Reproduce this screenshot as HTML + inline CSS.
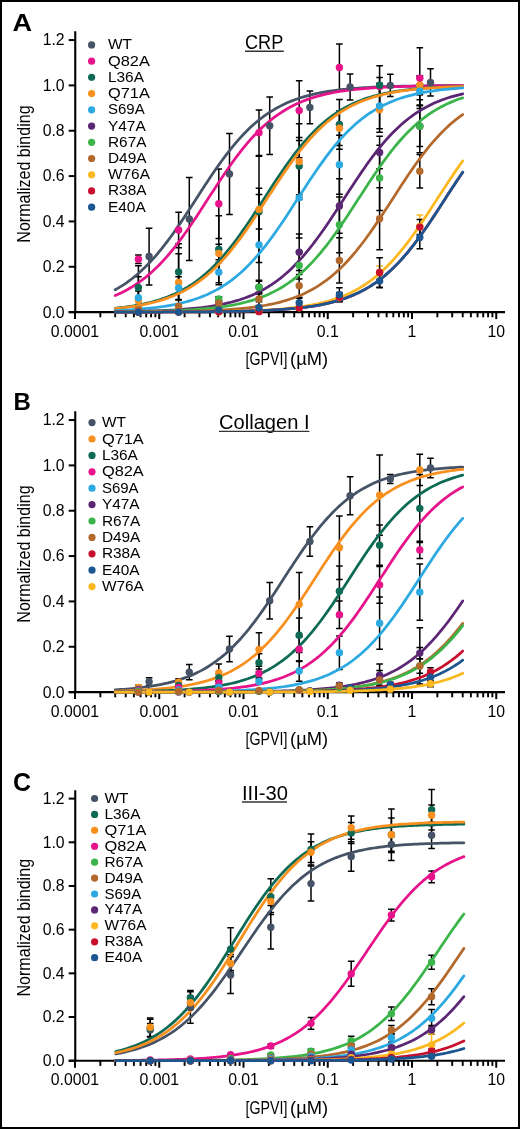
<!DOCTYPE html>
<html><head><meta charset="utf-8"><style>
html,body{margin:0;padding:0;background:#fff;}
body{width:520px;height:1129px;overflow:hidden;}
svg{display:block;will-change:transform;}
</style></head><body>
<svg width="520" height="1129" viewBox="0 0 520 1129">
<rect x="0" y="0" width="520" height="1129" fill="#fff"/>
<rect x="1" y="1" width="518" height="1127" fill="none" stroke="#000" stroke-width="2"/>
<text transform="translate(12.6,31.2) scale(1.13,1)" x="0" y="0" font-family="Liberation Sans, sans-serif" font-weight="bold" font-size="24" fill="#000">A</text>
<text transform="translate(30.3,242.7) rotate(-90)" x="0" y="0" font-family="Liberation Sans, sans-serif" font-size="19" textLength="137.3" lengthAdjust="spacingAndGlyphs" fill="#000">Normalized binding</text>
<line x1="75.25" y1="31.25" x2="75.25" y2="313.1" stroke="#000" stroke-width="2.1"/>
<line x1="68.7" y1="312.1" x2="505" y2="312.1" stroke="#000" stroke-width="2.1"/>
<line x1="68.7" y1="312.10" x2="75" y2="312.10" stroke="#000" stroke-width="2"/>
<text x="64.6" y="317.50" font-family="Liberation Sans, sans-serif" font-size="15.8" text-anchor="end" fill="#000">0.0</text>
<line x1="68.7" y1="266.76" x2="75" y2="266.76" stroke="#000" stroke-width="2"/>
<text x="64.6" y="272.16" font-family="Liberation Sans, sans-serif" font-size="15.8" text-anchor="end" fill="#000">0.2</text>
<line x1="68.7" y1="221.42" x2="75" y2="221.42" stroke="#000" stroke-width="2"/>
<text x="64.6" y="226.82" font-family="Liberation Sans, sans-serif" font-size="15.8" text-anchor="end" fill="#000">0.4</text>
<line x1="68.7" y1="176.08" x2="75" y2="176.08" stroke="#000" stroke-width="2"/>
<text x="64.6" y="181.48" font-family="Liberation Sans, sans-serif" font-size="15.8" text-anchor="end" fill="#000">0.6</text>
<line x1="68.7" y1="130.74" x2="75" y2="130.74" stroke="#000" stroke-width="2"/>
<text x="64.6" y="136.14" font-family="Liberation Sans, sans-serif" font-size="15.8" text-anchor="end" fill="#000">0.8</text>
<line x1="68.7" y1="85.40" x2="75" y2="85.40" stroke="#000" stroke-width="2"/>
<text x="64.6" y="90.80" font-family="Liberation Sans, sans-serif" font-size="15.8" text-anchor="end" fill="#000">1.0</text>
<line x1="68.7" y1="40.06" x2="75" y2="40.06" stroke="#000" stroke-width="2"/>
<text x="64.6" y="45.46" font-family="Liberation Sans, sans-serif" font-size="15.8" text-anchor="end" fill="#000">1.2</text>
<line x1="75.00" y1="312.1" x2="75.00" y2="319.10" stroke="#000" stroke-width="2"/>
<text x="75.00" y="336.50" font-family="Liberation Sans, sans-serif" font-size="15.8" text-anchor="middle" fill="#000">0.0001</text>
<line x1="100.36" y1="312.1" x2="100.36" y2="317.30" stroke="#000" stroke-width="1.9"/>
<line x1="115.20" y1="312.1" x2="115.20" y2="317.30" stroke="#000" stroke-width="1.9"/>
<line x1="125.72" y1="312.1" x2="125.72" y2="317.30" stroke="#000" stroke-width="1.9"/>
<line x1="133.89" y1="312.1" x2="133.89" y2="317.30" stroke="#000" stroke-width="1.9"/>
<line x1="140.56" y1="312.1" x2="140.56" y2="317.30" stroke="#000" stroke-width="1.9"/>
<line x1="146.20" y1="312.1" x2="146.20" y2="317.30" stroke="#000" stroke-width="1.9"/>
<line x1="151.09" y1="312.1" x2="151.09" y2="317.30" stroke="#000" stroke-width="1.9"/>
<line x1="155.39" y1="312.1" x2="155.39" y2="317.30" stroke="#000" stroke-width="1.9"/>
<line x1="159.25" y1="312.1" x2="159.25" y2="319.10" stroke="#000" stroke-width="2"/>
<text x="159.25" y="336.50" font-family="Liberation Sans, sans-serif" font-size="15.8" text-anchor="middle" fill="#000">0.001</text>
<line x1="184.61" y1="312.1" x2="184.61" y2="317.30" stroke="#000" stroke-width="1.9"/>
<line x1="199.45" y1="312.1" x2="199.45" y2="317.30" stroke="#000" stroke-width="1.9"/>
<line x1="209.97" y1="312.1" x2="209.97" y2="317.30" stroke="#000" stroke-width="1.9"/>
<line x1="218.14" y1="312.1" x2="218.14" y2="317.30" stroke="#000" stroke-width="1.9"/>
<line x1="224.81" y1="312.1" x2="224.81" y2="317.30" stroke="#000" stroke-width="1.9"/>
<line x1="230.45" y1="312.1" x2="230.45" y2="317.30" stroke="#000" stroke-width="1.9"/>
<line x1="235.34" y1="312.1" x2="235.34" y2="317.30" stroke="#000" stroke-width="1.9"/>
<line x1="239.64" y1="312.1" x2="239.64" y2="317.30" stroke="#000" stroke-width="1.9"/>
<line x1="243.50" y1="312.1" x2="243.50" y2="319.10" stroke="#000" stroke-width="2"/>
<text x="243.50" y="336.50" font-family="Liberation Sans, sans-serif" font-size="15.8" text-anchor="middle" fill="#000">0.01</text>
<line x1="268.86" y1="312.1" x2="268.86" y2="317.30" stroke="#000" stroke-width="1.9"/>
<line x1="283.70" y1="312.1" x2="283.70" y2="317.30" stroke="#000" stroke-width="1.9"/>
<line x1="294.22" y1="312.1" x2="294.22" y2="317.30" stroke="#000" stroke-width="1.9"/>
<line x1="302.39" y1="312.1" x2="302.39" y2="317.30" stroke="#000" stroke-width="1.9"/>
<line x1="309.06" y1="312.1" x2="309.06" y2="317.30" stroke="#000" stroke-width="1.9"/>
<line x1="314.70" y1="312.1" x2="314.70" y2="317.30" stroke="#000" stroke-width="1.9"/>
<line x1="319.59" y1="312.1" x2="319.59" y2="317.30" stroke="#000" stroke-width="1.9"/>
<line x1="323.89" y1="312.1" x2="323.89" y2="317.30" stroke="#000" stroke-width="1.9"/>
<line x1="327.75" y1="312.1" x2="327.75" y2="319.10" stroke="#000" stroke-width="2"/>
<text x="327.75" y="336.50" font-family="Liberation Sans, sans-serif" font-size="15.8" text-anchor="middle" fill="#000">0.1</text>
<line x1="353.11" y1="312.1" x2="353.11" y2="317.30" stroke="#000" stroke-width="1.9"/>
<line x1="367.95" y1="312.1" x2="367.95" y2="317.30" stroke="#000" stroke-width="1.9"/>
<line x1="378.47" y1="312.1" x2="378.47" y2="317.30" stroke="#000" stroke-width="1.9"/>
<line x1="386.64" y1="312.1" x2="386.64" y2="317.30" stroke="#000" stroke-width="1.9"/>
<line x1="393.31" y1="312.1" x2="393.31" y2="317.30" stroke="#000" stroke-width="1.9"/>
<line x1="398.95" y1="312.1" x2="398.95" y2="317.30" stroke="#000" stroke-width="1.9"/>
<line x1="403.84" y1="312.1" x2="403.84" y2="317.30" stroke="#000" stroke-width="1.9"/>
<line x1="408.14" y1="312.1" x2="408.14" y2="317.30" stroke="#000" stroke-width="1.9"/>
<line x1="412.00" y1="312.1" x2="412.00" y2="319.10" stroke="#000" stroke-width="2"/>
<text x="412.00" y="336.50" font-family="Liberation Sans, sans-serif" font-size="15.8" text-anchor="middle" fill="#000">1</text>
<line x1="437.36" y1="312.1" x2="437.36" y2="317.30" stroke="#000" stroke-width="1.9"/>
<line x1="452.20" y1="312.1" x2="452.20" y2="317.30" stroke="#000" stroke-width="1.9"/>
<line x1="462.72" y1="312.1" x2="462.72" y2="317.30" stroke="#000" stroke-width="1.9"/>
<line x1="470.89" y1="312.1" x2="470.89" y2="317.30" stroke="#000" stroke-width="1.9"/>
<line x1="477.56" y1="312.1" x2="477.56" y2="317.30" stroke="#000" stroke-width="1.9"/>
<line x1="483.20" y1="312.1" x2="483.20" y2="317.30" stroke="#000" stroke-width="1.9"/>
<line x1="488.09" y1="312.1" x2="488.09" y2="317.30" stroke="#000" stroke-width="1.9"/>
<line x1="492.39" y1="312.1" x2="492.39" y2="317.30" stroke="#000" stroke-width="1.9"/>
<line x1="496.25" y1="312.1" x2="496.25" y2="319.10" stroke="#000" stroke-width="2"/>
<text x="496.25" y="336.50" font-family="Liberation Sans, sans-serif" font-size="15.8" text-anchor="middle" fill="#000">10</text>
<text x="245.6" y="365.40" font-family="Liberation Sans, sans-serif" font-size="18.8" textLength="41.8" lengthAdjust="spacingAndGlyphs" fill="#000">[GPVI]</text>
<text x="290.1" y="365.40" font-family="Liberation Sans, sans-serif" font-size="18.8" textLength="38.0" lengthAdjust="spacingAndGlyphs" fill="#000">(µM)</text>
<text x="245.0" y="49.1" font-family="Liberation Sans, sans-serif" font-size="19.6" textLength="38.2" lengthAdjust="spacingAndGlyphs" fill="#000">CRP</text>
<line x1="245" y1="51.2" x2="283.8" y2="51.2" stroke="#333" stroke-width="1.4"/>
<circle cx="91.6" cy="44.90" r="3.6" fill="#465265"/>
<text x="108.0" y="49.40" font-family="Liberation Sans, sans-serif" font-size="15.4" fill="#000">WT</text>
<circle cx="91.6" cy="61.13" r="3.6" fill="#e6138b"/>
<text x="108.0" y="65.63" font-family="Liberation Sans, sans-serif" font-size="15.4" fill="#000" textLength="41.9" lengthAdjust="spacingAndGlyphs">Q82A</text>
<circle cx="91.6" cy="77.36" r="3.6" fill="#0c6a55"/>
<text x="108.0" y="81.86" font-family="Liberation Sans, sans-serif" font-size="15.4" fill="#000">L36A</text>
<circle cx="91.6" cy="93.59" r="3.6" fill="#f7901e"/>
<text x="108.0" y="98.09" font-family="Liberation Sans, sans-serif" font-size="15.4" fill="#000" textLength="41.9" lengthAdjust="spacingAndGlyphs">Q71A</text>
<circle cx="91.6" cy="109.82" r="3.6" fill="#2ca9e1"/>
<text x="108.0" y="114.32" font-family="Liberation Sans, sans-serif" font-size="15.4" fill="#000" textLength="36.7" lengthAdjust="spacingAndGlyphs">S69A</text>
<circle cx="91.6" cy="126.05" r="3.6" fill="#5b2673"/>
<text x="108.0" y="130.55" font-family="Liberation Sans, sans-serif" font-size="15.4" fill="#000">Y47A</text>
<circle cx="91.6" cy="142.28" r="3.6" fill="#3bb44a"/>
<text x="108.0" y="146.78" font-family="Liberation Sans, sans-serif" font-size="15.4" fill="#000">R67A</text>
<circle cx="91.6" cy="158.51" r="3.6" fill="#b4692c"/>
<text x="108.0" y="163.01" font-family="Liberation Sans, sans-serif" font-size="15.4" fill="#000">D49A</text>
<circle cx="91.6" cy="174.74" r="3.6" fill="#fbb81f"/>
<text x="108.0" y="179.24" font-family="Liberation Sans, sans-serif" font-size="15.4" fill="#000">W76A</text>
<circle cx="91.6" cy="190.97" r="3.6" fill="#c8102e"/>
<text x="108.0" y="195.47" font-family="Liberation Sans, sans-serif" font-size="15.4" fill="#000">R38A</text>
<circle cx="91.6" cy="207.20" r="3.6" fill="#1b5691"/>
<text x="108.0" y="211.70" font-family="Liberation Sans, sans-serif" font-size="15.4" fill="#000">E40A</text>
<path d="M145.80,228.22H152.40M149.10,228.22V284.90M145.80,284.90H152.40" stroke="#000" stroke-width="1.5" fill="none"/>
<path d="M186.00,177.44H192.60M189.30,177.44V260.41M186.00,260.41H192.60" stroke="#000" stroke-width="1.5" fill="none"/>
<path d="M226.20,133.46H232.80M229.50,133.46V214.62M226.20,214.62H232.80" stroke="#000" stroke-width="1.5" fill="none"/>
<path d="M266.40,96.96H273.00M269.70,96.96V154.54M266.40,154.54H273.00" stroke="#000" stroke-width="1.5" fill="none"/>
<path d="M306.60,91.07H313.20M309.90,91.07V123.71M306.60,123.71H313.20" stroke="#000" stroke-width="1.5" fill="none"/>
<path d="M346.80,74.07H353.40M350.10,74.07V99.91M346.80,99.91H353.40" stroke="#000" stroke-width="1.5" fill="none"/>
<path d="M387.00,74.29H393.60M390.30,74.29V96.51M387.00,96.51H393.60" stroke="#000" stroke-width="1.5" fill="none"/>
<path d="M427.20,68.85H433.80M430.50,68.85V96.05M427.20,96.05H433.80" stroke="#000" stroke-width="1.5" fill="none"/>
<path d="M135.10,254.97H141.70M138.40,254.97V263.59M135.10,263.59H141.70" stroke="#000" stroke-width="1.5" fill="none"/>
<path d="M175.30,212.35H181.90M178.60,212.35V247.72M175.30,247.72H181.90" stroke="#000" stroke-width="1.5" fill="none"/>
<path d="M215.50,169.05H222.10M218.80,169.05V238.42M215.50,238.42H222.10" stroke="#000" stroke-width="1.5" fill="none"/>
<path d="M255.70,110.11H262.30M259.00,110.11V155.45M255.70,155.45H262.30" stroke="#000" stroke-width="1.5" fill="none"/>
<path d="M295.90,80.64H302.50M299.20,80.64V140.49M295.90,140.49H302.50" stroke="#000" stroke-width="1.5" fill="none"/>
<path d="M336.10,43.91H342.70M339.40,43.91V91.07M336.10,91.07H342.70" stroke="#000" stroke-width="1.5" fill="none"/>
<path d="M376.30,77.47H382.90M379.60,77.47V95.60M376.30,95.60H382.90" stroke="#000" stroke-width="1.5" fill="none"/>
<path d="M416.50,47.77H423.10M419.80,47.77V108.52M416.50,108.52H423.10" stroke="#000" stroke-width="1.5" fill="none"/>
<path d="M135.10,265.85H141.70M138.40,265.85V308.93M135.10,308.93H141.70" stroke="#000" stroke-width="1.5" fill="none"/>
<path d="M175.30,243.86H181.90M178.60,243.86V300.08M175.30,300.08H181.90" stroke="#000" stroke-width="1.5" fill="none"/>
<path d="M215.50,215.75H222.10M218.80,215.75V282.86M215.50,282.86H222.10" stroke="#000" stroke-width="1.5" fill="none"/>
<path d="M255.70,194.44H262.30M259.00,194.44V228.90M255.70,228.90H262.30" stroke="#000" stroke-width="1.5" fill="none"/>
<path d="M295.90,137.54H302.50M299.20,137.54V194.67M295.90,194.67H302.50" stroke="#000" stroke-width="1.5" fill="none"/>
<path d="M336.10,99.46H342.70M339.40,99.46V149.33M336.10,149.33H342.70" stroke="#000" stroke-width="1.5" fill="none"/>
<path d="M376.30,65.68H382.90M379.60,65.68V104.67M376.30,104.67H382.90" stroke="#000" stroke-width="1.5" fill="none"/>
<path d="M416.50,76.33H423.10M419.80,76.33V94.47M416.50,94.47H423.10" stroke="#000" stroke-width="1.5" fill="none"/>
<path d="M135.10,276.73H141.70M138.40,276.73V313.23M135.10,313.23H141.70" stroke="#000" stroke-width="1.5" fill="none"/>
<path d="M175.30,253.84H181.90M178.60,253.84V310.97M175.30,310.97H181.90" stroke="#000" stroke-width="1.5" fill="none"/>
<path d="M215.50,244.32H222.10M218.80,244.32V262.45M215.50,262.45H222.10" stroke="#000" stroke-width="1.5" fill="none"/>
<path d="M255.70,156.36H262.30M259.00,156.36V262.45M255.70,262.45H262.30" stroke="#000" stroke-width="1.5" fill="none"/>
<path d="M295.90,123.71H302.50M299.20,123.71V199.43M295.90,199.43H302.50" stroke="#000" stroke-width="1.5" fill="none"/>
<path d="M336.10,111.02H342.70M339.40,111.02V145.48M336.10,145.48H342.70" stroke="#000" stroke-width="1.5" fill="none"/>
<path d="M376.30,86.99H382.90M379.60,86.99V132.33M376.30,132.33H382.90" stroke="#000" stroke-width="1.5" fill="none"/>
<path d="M416.50,75.65H423.10M419.80,75.65V94.69M416.50,94.69H423.10" stroke="#000" stroke-width="1.5" fill="none"/>
<path d="M135.10,291.02H141.70M138.40,291.02V304.62M135.10,304.62H141.70" stroke="#000" stroke-width="1.5" fill="none"/>
<path d="M175.30,276.73H181.90M178.60,276.73V299.40M175.30,299.40H181.90" stroke="#000" stroke-width="1.5" fill="none"/>
<path d="M215.50,259.73H222.10M218.80,259.73V284.67M215.50,284.67H222.10" stroke="#000" stroke-width="1.5" fill="none"/>
<path d="M255.70,188.32H262.30M259.00,188.32V301.67M255.70,301.67H262.30" stroke="#000" stroke-width="1.5" fill="none"/>
<path d="M295.90,157.72H302.50M299.20,157.72V237.97M295.90,237.97H302.50" stroke="#000" stroke-width="1.5" fill="none"/>
<path d="M336.10,135.27H342.70M339.40,135.27V194.22M336.10,194.22H342.70" stroke="#000" stroke-width="1.5" fill="none"/>
<path d="M376.30,83.36H382.90M379.60,83.36V128.70M376.30,128.70H382.90" stroke="#000" stroke-width="1.5" fill="none"/>
<path d="M416.50,77.69H423.10M419.80,77.69V104.90M416.50,104.90H423.10" stroke="#000" stroke-width="1.5" fill="none"/>
<path d="M135.10,310.97H141.70M138.40,310.97V313.23M135.10,313.23H141.70" stroke="#000" stroke-width="1.5" fill="none"/>
<path d="M175.30,309.83H181.90M178.60,309.83V312.10M175.30,312.10H181.90" stroke="#000" stroke-width="1.5" fill="none"/>
<path d="M215.50,297.36H222.10M218.80,297.36V306.43M215.50,306.43H222.10" stroke="#000" stroke-width="1.5" fill="none"/>
<path d="M255.70,280.36H262.30M259.00,280.36V293.96M255.70,293.96H262.30" stroke="#000" stroke-width="1.5" fill="none"/>
<path d="M295.90,234.12H302.50M299.20,234.12V270.39M295.90,270.39H302.50" stroke="#000" stroke-width="1.5" fill="none"/>
<path d="M336.10,178.80H342.70M339.40,178.80V233.21M336.10,233.21H342.70" stroke="#000" stroke-width="1.5" fill="none"/>
<path d="M376.30,136.18H382.90M379.60,136.18V168.83M376.30,168.83H382.90" stroke="#000" stroke-width="1.5" fill="none"/>
<path d="M416.50,105.80H423.10M419.80,105.80V146.61M416.50,146.61H423.10" stroke="#000" stroke-width="1.5" fill="none"/>
<path d="M135.10,310.97H141.70M138.40,310.97V313.23M135.10,313.23H141.70" stroke="#000" stroke-width="1.5" fill="none"/>
<path d="M175.30,308.70H181.90M178.60,308.70V310.97M175.30,310.97H181.90" stroke="#000" stroke-width="1.5" fill="none"/>
<path d="M215.50,296.68H222.10M218.80,296.68V301.22M215.50,301.22H222.10" stroke="#000" stroke-width="1.5" fill="none"/>
<path d="M255.70,281.27H262.30M259.00,281.27V293.06M255.70,293.06H262.30" stroke="#000" stroke-width="1.5" fill="none"/>
<path d="M295.90,251.80H302.50M299.20,251.80V279.00M295.90,279.00H302.50" stroke="#000" stroke-width="1.5" fill="none"/>
<path d="M336.10,196.94H342.70M339.40,196.94V252.70M336.10,252.70H342.70" stroke="#000" stroke-width="1.5" fill="none"/>
<path d="M376.30,145.25H382.90M379.60,145.25V210.54M376.30,210.54H382.90" stroke="#000" stroke-width="1.5" fill="none"/>
<path d="M416.50,99.68H423.10M419.80,99.68V152.73M416.50,152.73H423.10" stroke="#000" stroke-width="1.5" fill="none"/>
<path d="M135.10,307.34H141.70M138.40,307.34V311.87M135.10,311.87H141.70" stroke="#000" stroke-width="1.5" fill="none"/>
<path d="M175.30,303.94H181.90M178.60,303.94V308.47M175.30,308.47H181.90" stroke="#000" stroke-width="1.5" fill="none"/>
<path d="M215.50,298.72H222.10M218.80,298.72V307.79M215.50,307.79H222.10" stroke="#000" stroke-width="1.5" fill="none"/>
<path d="M255.70,292.15H262.30M259.00,292.15V305.75M255.70,305.75H262.30" stroke="#000" stroke-width="1.5" fill="none"/>
<path d="M295.90,274.47H302.50M299.20,274.47V297.14M295.90,297.14H302.50" stroke="#000" stroke-width="1.5" fill="none"/>
<path d="M336.10,237.74H342.70M339.40,237.74V283.08M336.10,283.08H342.70" stroke="#000" stroke-width="1.5" fill="none"/>
<path d="M376.30,187.64H382.90M379.60,187.64V249.76M376.30,249.76H382.90" stroke="#000" stroke-width="1.5" fill="none"/>
<path d="M416.50,154.54H423.10M419.80,154.54V188.10M416.50,188.10H423.10" stroke="#000" stroke-width="1.5" fill="none"/>
<path d="M295.90,305.53H302.50M299.20,305.53V310.06M295.90,310.06H302.50" stroke="#fbb81f" stroke-width="1.5" fill="none"/>
<path d="M336.10,294.42H342.70M339.40,294.42V299.86M336.10,299.86H342.70" stroke="#fbb81f" stroke-width="1.5" fill="none"/>
<path d="M376.30,266.08H382.90M379.60,266.08V278.78M376.30,278.78H382.90" stroke="#fbb81f" stroke-width="1.5" fill="none"/>
<path d="M416.50,215.07H423.10M419.80,215.07V237.74M416.50,237.74H423.10" stroke="#fbb81f" stroke-width="1.5" fill="none"/>
<path d="M295.90,305.53H302.50M299.20,305.53V310.06M295.90,310.06H302.50" stroke="#000" stroke-width="1.5" fill="none"/>
<path d="M336.10,292.60H342.70M339.40,292.60V301.67M336.10,301.67H342.70" stroke="#000" stroke-width="1.5" fill="none"/>
<path d="M376.30,257.69H382.90M379.60,257.69V287.16M376.30,287.16H382.90" stroke="#000" stroke-width="1.5" fill="none"/>
<path d="M416.50,219.61H423.10M419.80,219.61V234.57M416.50,234.57H423.10" stroke="#000" stroke-width="1.5" fill="none"/>
<path d="M215.50,308.70H222.10M218.80,308.70V310.97M215.50,310.97H222.10" stroke="#000" stroke-width="1.5" fill="none"/>
<path d="M255.70,305.53H262.30M259.00,305.53V310.06M255.70,310.06H262.30" stroke="#000" stroke-width="1.5" fill="none"/>
<path d="M295.90,298.27H302.50M299.20,298.27V307.34M295.90,307.34H302.50" stroke="#000" stroke-width="1.5" fill="none"/>
<path d="M336.10,287.84H342.70M339.40,287.84V301.45M336.10,301.45H342.70" stroke="#000" stroke-width="1.5" fill="none"/>
<path d="M376.30,274.24H382.90M379.60,274.24V287.84M376.30,287.84H382.90" stroke="#000" stroke-width="1.5" fill="none"/>
<path d="M416.50,226.18H423.10M419.80,226.18V248.85M416.50,248.85H423.10" stroke="#000" stroke-width="1.5" fill="none"/>
<path d="M115.20,289.80 L118.09,288.16 L120.99,286.41 L123.89,284.55 L126.78,282.58 L129.68,280.49 L132.57,278.27 L135.47,275.93 L138.37,273.46 L141.26,270.85 L144.16,268.11 L147.05,265.24 L149.95,262.23 L152.85,259.08 L155.74,255.80 L158.64,252.39 L161.53,248.84 L164.43,245.17 L167.33,241.37 L170.22,237.47 L173.12,233.45 L176.01,229.34 L178.91,225.14 L181.81,220.86 L184.70,216.51 L187.60,212.11 L190.49,207.67 L193.39,203.20 L196.29,198.71 L199.18,194.23 L202.08,189.76 L204.98,185.32 L207.87,180.92 L210.77,176.57 L213.66,172.30 L216.56,168.10 L219.46,163.98 L222.35,159.97 L225.25,156.06 L228.14,152.27 L231.04,148.60 L233.94,145.06 L236.83,141.65 L239.73,138.37 L242.62,135.22 L245.52,132.21 L248.42,129.34 L251.31,126.60 L254.21,124.00 L257.10,121.53 L260.00,119.19 L262.90,116.98 L265.79,114.89 L268.69,112.92 L271.58,111.06 L274.48,109.31 L277.38,107.67 L280.27,106.13 L283.17,104.69 L286.06,103.34 L288.96,102.07 L291.86,100.89 L294.75,99.79 L297.65,98.76 L300.54,97.80 L303.44,96.90 L306.34,96.07 L309.23,95.29 L312.13,94.57 L315.02,93.90 L317.92,93.27 L320.82,92.69 L323.71,92.15 L326.61,91.65 L329.51,91.19 L332.40,90.76 L335.30,90.36 L338.19,89.99 L341.09,89.65 L343.99,89.33 L346.88,89.04 L349.78,88.76 L352.67,88.51 L355.57,88.28 L358.47,88.06 L361.36,87.86 L364.26,87.68 L367.15,87.50 L370.05,87.35 L372.95,87.20 L375.84,87.06 L378.74,86.94 L381.63,86.82 L384.53,86.71 L387.43,86.61 L390.32,86.52 L393.22,86.44 L396.11,86.36 L399.01,86.29 L401.91,86.22 L404.80,86.16 L407.70,86.10 L410.59,86.05 L413.49,86.00 L416.39,85.95 L419.28,85.91 L422.18,85.87 L425.07,85.84 L427.97,85.80 L430.87,85.77 L433.76,85.74 L436.66,85.72 L439.56,85.69 L442.45,85.67 L445.35,85.65 L448.24,85.63 L451.14,85.61 L454.04,85.60 L456.93,85.58 L459.83,85.57 L462.72,85.56" stroke="#465265" stroke-width="2.75" fill="none" stroke-linejoin="round" stroke-linecap="round"/>
<path d="M115.20,295.51 L118.09,294.25 L120.99,292.91 L123.89,291.47 L126.78,289.94 L129.68,288.30 L132.57,286.56 L135.47,284.72 L138.37,282.75 L141.26,280.67 L144.16,278.47 L147.05,276.13 L149.95,273.67 L152.85,271.08 L155.74,268.36 L158.64,265.49 L161.53,262.49 L164.43,259.36 L167.33,256.09 L170.22,252.68 L173.12,249.15 L176.01,245.49 L178.91,241.70 L181.81,237.81 L184.70,233.80 L187.60,229.70 L190.49,225.50 L193.39,221.23 L196.29,216.89 L199.18,212.49 L202.08,208.05 L204.98,203.58 L207.87,199.10 L210.77,194.62 L213.66,190.14 L216.56,185.70 L219.46,181.30 L222.35,176.95 L225.25,172.66 L228.14,168.45 L231.04,164.33 L233.94,160.31 L236.83,156.40 L239.73,152.59 L242.62,148.91 L245.52,145.36 L248.42,141.93 L251.31,138.64 L254.21,135.49 L257.10,132.47 L260.00,129.58 L262.90,126.83 L265.79,124.22 L268.69,121.74 L271.58,119.39 L274.48,117.17 L277.38,115.06 L280.27,113.08 L283.17,111.22 L286.06,109.46 L288.96,107.81 L291.86,106.26 L294.75,104.81 L297.65,103.45 L300.54,102.18 L303.44,100.99 L306.34,99.88 L309.23,98.84 L312.13,97.88 L315.02,96.97 L317.92,96.14 L320.82,95.35 L323.71,94.63 L326.61,93.95 L329.51,93.32 L332.40,92.74 L335.30,92.20 L338.19,91.70 L341.09,91.23 L343.99,90.80 L346.88,90.39 L349.78,90.02 L352.67,89.68 L355.57,89.36 L358.47,89.06 L361.36,88.79 L364.26,88.53 L367.15,88.30 L370.05,88.08 L372.95,87.88 L375.84,87.69 L378.74,87.52 L381.63,87.36 L384.53,87.21 L387.43,87.07 L390.32,86.95 L393.22,86.83 L396.11,86.72 L399.01,86.62 L401.91,86.53 L404.80,86.44 L407.70,86.36 L410.59,86.29 L413.49,86.22 L416.39,86.16 L419.28,86.10 L422.18,86.05 L425.07,86.00 L427.97,85.96 L430.87,85.91 L433.76,85.87 L436.66,85.84 L439.56,85.80 L442.45,85.77 L445.35,85.75 L448.24,85.72 L451.14,85.70 L454.04,85.67 L456.93,85.65 L459.83,85.63 L462.72,85.62" stroke="#e6138b" stroke-width="2.75" fill="none" stroke-linejoin="round" stroke-linecap="round"/>
<path d="M115.20,308.28 L118.09,307.97 L120.99,307.64 L123.89,307.28 L126.78,306.89 L129.68,306.47 L132.57,306.02 L135.47,305.53 L138.37,305.01 L141.26,304.44 L144.16,303.84 L147.05,303.18 L149.95,302.48 L152.85,301.72 L155.74,300.91 L158.64,300.04 L161.53,299.10 L164.43,298.10 L167.33,297.02 L170.22,295.87 L173.12,294.63 L176.01,293.31 L178.91,291.90 L181.81,290.40 L184.70,288.80 L187.60,287.09 L190.49,285.27 L193.39,283.34 L196.29,281.30 L199.18,279.13 L202.08,276.84 L204.98,274.41 L207.87,271.86 L210.77,269.17 L213.66,266.35 L216.56,263.39 L219.46,260.30 L222.35,257.07 L225.25,253.70 L228.14,250.20 L231.04,246.58 L233.94,242.83 L236.83,238.97 L239.73,234.99 L242.62,230.92 L245.52,226.75 L248.42,222.50 L251.31,218.17 L254.21,213.79 L257.10,209.36 L260.00,204.90 L262.90,200.42 L265.79,195.94 L268.69,191.46 L271.58,187.01 L274.48,182.59 L277.38,178.22 L280.27,173.92 L283.17,169.69 L286.06,165.54 L288.96,161.49 L291.86,157.54 L294.75,153.70 L297.65,149.99 L300.54,146.39 L303.44,142.93 L306.34,139.60 L309.23,136.40 L312.13,133.34 L315.02,130.42 L317.92,127.63 L320.82,124.98 L323.71,122.46 L326.61,120.07 L329.51,117.81 L332.40,115.67 L335.30,113.66 L338.19,111.75 L341.09,109.97 L343.99,108.29 L346.88,106.71 L349.78,105.23 L352.67,103.84 L355.57,102.54 L358.47,101.33 L361.36,100.20 L364.26,99.14 L367.15,98.15 L370.05,97.23 L372.95,96.38 L375.84,95.58 L378.74,94.84 L381.63,94.15 L384.53,93.50 L387.43,92.91 L390.32,92.35 L393.22,91.84 L396.11,91.36 L399.01,90.92 L401.91,90.51 L404.80,90.13 L407.70,89.78 L410.59,89.45 L413.49,89.15 L416.39,88.87 L419.28,88.61 L422.18,88.36 L425.07,88.14 L427.97,87.94 L430.87,87.74 L433.76,87.57 L436.66,87.40 L439.56,87.25 L442.45,87.11 L445.35,86.98 L448.24,86.86 L451.14,86.75 L454.04,86.65 L456.93,86.56 L459.83,86.47 L462.72,86.39" stroke="#0c6a55" stroke-width="2.75" fill="none" stroke-linejoin="round" stroke-linecap="round"/>
<path d="M115.20,308.58 L118.09,308.29 L120.99,307.98 L123.89,307.65 L126.78,307.29 L129.68,306.90 L132.57,306.49 L135.47,306.04 L138.37,305.55 L141.26,305.03 L144.16,304.47 L147.05,303.86 L149.95,303.21 L152.85,302.51 L155.74,301.75 L158.64,300.94 L161.53,300.07 L164.43,299.14 L167.33,298.14 L170.22,297.06 L173.12,295.91 L176.01,294.68 L178.91,293.37 L181.81,291.96 L184.70,290.46 L187.60,288.86 L190.49,287.16 L193.39,285.35 L196.29,283.42 L199.18,281.38 L202.08,279.22 L204.98,276.93 L207.87,274.51 L210.77,271.96 L213.66,269.28 L216.56,266.46 L219.46,263.51 L222.35,260.42 L225.25,257.20 L228.14,253.84 L231.04,250.34 L233.94,246.72 L236.83,242.98 L239.73,239.12 L242.62,235.15 L245.52,231.08 L248.42,226.91 L251.31,222.66 L254.21,218.34 L257.10,213.96 L260.00,209.54 L262.90,205.08 L265.79,200.60 L268.69,196.11 L271.58,191.64 L274.48,187.18 L277.38,182.76 L280.27,178.39 L283.17,174.08 L286.06,169.85 L288.96,165.70 L291.86,161.64 L294.75,157.69 L297.65,153.85 L300.54,150.13 L303.44,146.53 L306.34,143.06 L309.23,139.73 L312.13,136.52 L315.02,133.46 L317.92,130.53 L320.82,127.74 L323.71,125.08 L326.61,122.55 L329.51,120.16 L332.40,117.89 L335.30,115.75 L338.19,113.73 L341.09,111.83 L343.99,110.03 L346.88,108.35 L349.78,106.77 L352.67,105.28 L355.57,103.89 L358.47,102.59 L361.36,101.38 L364.26,100.24 L367.15,99.18 L370.05,98.19 L372.95,97.27 L375.84,96.41 L378.74,95.61 L381.63,94.86 L384.53,94.17 L387.43,93.53 L390.32,92.93 L393.22,92.38 L396.11,91.86 L399.01,91.38 L401.91,90.94 L404.80,90.53 L407.70,90.14 L410.59,89.79 L413.49,89.46 L416.39,89.16 L419.28,88.88 L422.18,88.62 L425.07,88.37 L427.97,88.15 L430.87,87.94 L433.76,87.75 L436.66,87.57 L439.56,87.41 L442.45,87.26 L445.35,87.12 L448.24,86.99 L451.14,86.87 L454.04,86.76 L456.93,86.65 L459.83,86.56 L462.72,86.47" stroke="#f7901e" stroke-width="2.75" fill="none" stroke-linejoin="round" stroke-linecap="round"/>
<path d="M115.20,310.56 L118.09,310.44 L120.99,310.30 L123.89,310.16 L126.78,310.00 L129.68,309.83 L132.57,309.64 L135.47,309.44 L138.37,309.23 L141.26,308.99 L144.16,308.74 L147.05,308.47 L149.95,308.17 L152.85,307.86 L155.74,307.51 L158.64,307.14 L161.53,306.75 L164.43,306.32 L167.33,305.85 L170.22,305.35 L173.12,304.82 L176.01,304.24 L178.91,303.61 L181.81,302.94 L184.70,302.22 L187.60,301.44 L190.49,300.61 L193.39,299.72 L196.29,298.76 L199.18,297.73 L202.08,296.62 L204.98,295.44 L207.87,294.18 L210.77,292.83 L213.66,291.39 L216.56,289.85 L219.46,288.21 L222.35,286.46 L225.25,284.61 L228.14,282.64 L231.04,280.55 L233.94,278.34 L236.83,276.00 L239.73,273.53 L242.62,270.93 L245.52,268.20 L248.42,265.33 L251.31,262.32 L254.21,259.18 L257.10,255.90 L260.00,252.49 L262.90,248.95 L265.79,245.28 L268.69,241.49 L271.58,237.58 L274.48,233.57 L277.38,229.46 L280.27,225.26 L283.17,220.98 L286.06,216.64 L288.96,212.24 L291.86,207.80 L294.75,203.33 L297.65,198.85 L300.54,194.36 L303.44,189.89 L306.34,185.45 L309.23,181.05 L312.13,176.70 L315.02,172.42 L317.92,168.22 L320.82,164.10 L323.71,160.09 L326.61,156.18 L329.51,152.38 L332.40,148.71 L335.30,145.16 L338.19,141.74 L341.09,138.46 L343.99,135.31 L346.88,132.30 L349.78,129.42 L352.67,126.68 L355.57,124.08 L358.47,121.60 L361.36,119.26 L364.26,117.04 L367.15,114.95 L370.05,112.97 L372.95,111.11 L375.84,109.36 L378.74,107.72 L381.63,106.18 L384.53,104.73 L387.43,103.38 L390.32,102.11 L393.22,100.92 L396.11,99.82 L399.01,98.79 L401.91,97.82 L404.80,96.93 L407.70,96.09 L410.59,95.31 L413.49,94.59 L416.39,93.92 L419.28,93.29 L422.18,92.71 L425.07,92.17 L427.97,91.67 L430.87,91.20 L433.76,90.77 L436.66,90.37 L439.56,90.00 L442.45,89.66 L445.35,89.34 L448.24,89.04 L451.14,88.77 L454.04,88.52 L456.93,88.28 L459.83,88.07 L462.72,87.87" stroke="#2ca9e1" stroke-width="2.75" fill="none" stroke-linejoin="round" stroke-linecap="round"/>
<path d="M115.20,311.66 L118.09,311.63 L120.99,311.59 L123.89,311.55 L126.78,311.50 L129.68,311.45 L132.57,311.40 L135.47,311.34 L138.37,311.28 L141.26,311.21 L144.16,311.14 L147.05,311.06 L149.95,310.98 L152.85,310.89 L155.74,310.79 L158.64,310.68 L161.53,310.56 L164.43,310.44 L167.33,310.30 L170.22,310.16 L173.12,310.00 L176.01,309.83 L178.91,309.64 L181.81,309.44 L184.70,309.22 L187.60,308.99 L190.49,308.74 L193.39,308.46 L196.29,308.17 L199.18,307.85 L202.08,307.51 L204.98,307.14 L207.87,306.74 L210.77,306.31 L213.66,305.85 L216.56,305.35 L219.46,304.81 L222.35,304.23 L225.25,303.61 L228.14,302.94 L231.04,302.21 L233.94,301.44 L236.83,300.60 L239.73,299.71 L242.62,298.75 L245.52,297.72 L248.42,296.61 L251.31,295.43 L254.21,294.17 L257.10,292.82 L260.00,291.37 L262.90,289.83 L265.79,288.19 L268.69,286.45 L271.58,284.59 L274.48,282.62 L277.38,280.53 L280.27,278.32 L283.17,275.98 L286.06,273.51 L288.96,270.91 L291.86,268.17 L294.75,265.30 L297.65,262.29 L300.54,259.15 L303.44,255.87 L306.34,252.46 L309.23,248.91 L312.13,245.24 L315.02,241.45 L317.92,237.55 L320.82,233.53 L323.71,229.42 L326.61,225.22 L329.51,220.94 L332.40,216.60 L335.30,212.20 L338.19,207.76 L341.09,203.29 L343.99,198.80 L346.88,194.32 L349.78,189.85 L352.67,185.41 L355.57,181.01 L358.47,176.66 L361.36,172.38 L364.26,168.18 L367.15,164.07 L370.05,160.05 L372.95,156.14 L375.84,152.35 L378.74,148.68 L381.63,145.13 L384.53,141.71 L387.43,138.43 L390.32,135.28 L393.22,132.27 L396.11,129.40 L399.01,126.66 L401.91,124.05 L404.80,121.58 L407.70,119.24 L410.59,117.02 L413.49,114.93 L416.39,112.96 L419.28,111.10 L422.18,109.35 L425.07,107.71 L427.97,106.16 L430.87,104.72 L433.76,103.36 L436.66,102.10 L439.56,100.91 L442.45,99.81 L445.35,98.78 L448.24,97.81 L451.14,96.92 L454.04,96.08 L456.93,95.31 L459.83,94.58 L462.72,93.91" stroke="#5b2673" stroke-width="2.75" fill="none" stroke-linejoin="round" stroke-linecap="round"/>
<path d="M115.20,311.81 L118.09,311.78 L120.99,311.76 L123.89,311.73 L126.78,311.70 L129.68,311.67 L132.57,311.63 L135.47,311.59 L138.37,311.55 L141.26,311.50 L144.16,311.45 L147.05,311.40 L149.95,311.34 L152.85,311.28 L155.74,311.22 L158.64,311.14 L161.53,311.06 L164.43,310.98 L167.33,310.89 L170.22,310.79 L173.12,310.68 L176.01,310.57 L178.91,310.44 L181.81,310.30 L184.70,310.16 L187.60,310.00 L190.49,309.83 L193.39,309.64 L196.29,309.44 L199.18,309.23 L202.08,308.99 L204.98,308.74 L207.87,308.47 L210.77,308.17 L213.66,307.86 L216.56,307.52 L219.46,307.15 L222.35,306.75 L225.25,306.32 L228.14,305.85 L231.04,305.36 L233.94,304.82 L236.83,304.24 L239.73,303.62 L242.62,302.94 L245.52,302.22 L248.42,301.45 L251.31,300.62 L254.21,299.72 L257.10,298.76 L260.00,297.73 L262.90,296.63 L265.79,295.45 L268.69,294.19 L271.58,292.84 L274.48,291.39 L277.38,289.86 L280.27,288.22 L283.17,286.47 L286.06,284.62 L288.96,282.65 L291.86,280.56 L294.75,278.35 L297.65,276.01 L300.54,273.54 L303.44,270.94 L306.34,268.21 L309.23,265.34 L312.13,262.34 L315.02,259.19 L317.92,255.92 L320.82,252.50 L323.71,248.96 L326.61,245.30 L329.51,241.51 L332.40,237.60 L335.30,233.59 L338.19,229.48 L341.09,225.28 L343.99,221.01 L346.88,216.66 L349.78,212.26 L352.67,207.82 L355.57,203.35 L358.47,198.87 L361.36,194.39 L364.26,189.91 L367.15,185.47 L370.05,181.07 L372.95,176.72 L375.84,172.44 L378.74,168.24 L381.63,164.12 L384.53,160.11 L387.43,156.20 L390.32,152.40 L393.22,148.73 L396.11,145.18 L399.01,141.76 L401.91,138.48 L404.80,135.33 L407.70,132.31 L410.59,129.44 L413.49,126.70 L416.39,124.09 L419.28,121.62 L422.18,119.27 L425.07,117.05 L427.97,114.96 L430.87,112.98 L433.76,111.12 L436.66,109.37 L439.56,107.73 L442.45,106.18 L445.35,104.74 L448.24,103.38 L451.14,102.12 L454.04,100.93 L456.93,99.82 L459.83,98.79 L462.72,97.83" stroke="#3bb44a" stroke-width="2.75" fill="none" stroke-linejoin="round" stroke-linecap="round"/>
<path d="M115.20,311.98 L118.09,311.98 L120.99,311.97 L123.89,311.95 L126.78,311.94 L129.68,311.93 L132.57,311.91 L135.47,311.90 L138.37,311.88 L141.26,311.87 L144.16,311.85 L147.05,311.83 L149.95,311.80 L152.85,311.78 L155.74,311.75 L158.64,311.72 L161.53,311.69 L164.43,311.66 L167.33,311.62 L170.22,311.58 L173.12,311.54 L176.01,311.49 L178.91,311.44 L181.81,311.39 L184.70,311.33 L187.60,311.27 L190.49,311.20 L193.39,311.13 L196.29,311.05 L199.18,310.96 L202.08,310.87 L204.98,310.77 L207.87,310.66 L210.77,310.54 L213.66,310.41 L216.56,310.27 L219.46,310.13 L222.35,309.96 L225.25,309.79 L228.14,309.60 L231.04,309.40 L233.94,309.18 L236.83,308.94 L239.73,308.69 L242.62,308.41 L245.52,308.11 L248.42,307.79 L251.31,307.44 L254.21,307.07 L257.10,306.66 L260.00,306.22 L262.90,305.75 L265.79,305.25 L268.69,304.70 L271.58,304.11 L274.48,303.48 L277.38,302.80 L280.27,302.07 L283.17,301.28 L286.06,300.44 L288.96,299.53 L291.86,298.55 L294.75,297.51 L297.65,296.39 L300.54,295.19 L303.44,293.91 L306.34,292.54 L309.23,291.08 L312.13,289.52 L315.02,287.86 L317.92,286.10 L320.82,284.22 L323.71,282.22 L326.61,280.11 L329.51,277.87 L332.40,275.51 L335.30,273.02 L338.19,270.39 L341.09,267.63 L343.99,264.73 L346.88,261.70 L349.78,258.52 L352.67,255.22 L355.57,251.78 L358.47,248.21 L361.36,244.52 L364.26,240.71 L367.15,236.78 L370.05,232.75 L372.95,228.62 L375.84,224.40 L378.74,220.11 L381.63,215.75 L384.53,211.34 L387.43,206.90 L390.32,202.42 L393.22,197.94 L396.11,193.46 L399.01,188.99 L401.91,184.56 L404.80,180.16 L407.70,175.83 L410.59,171.56 L413.49,167.38 L416.39,163.28 L419.28,159.29 L422.18,155.40 L425.07,151.63 L427.97,147.98 L430.87,144.46 L433.76,141.07 L436.66,137.81 L439.56,134.69 L442.45,131.71 L445.35,128.86 L448.24,126.14 L451.14,123.57 L454.04,121.12 L456.93,118.80 L459.83,116.61 L462.72,114.54" stroke="#b4692c" stroke-width="2.75" fill="none" stroke-linejoin="round" stroke-linecap="round"/>
<path d="M115.20,312.07 L118.09,312.06 L120.99,312.06 L123.89,312.06 L126.78,312.05 L129.68,312.05 L132.57,312.05 L135.47,312.04 L138.37,312.04 L141.26,312.03 L144.16,312.02 L147.05,312.02 L149.95,312.01 L152.85,312.00 L155.74,312.00 L158.64,311.99 L161.53,311.98 L164.43,311.97 L167.33,311.96 L170.22,311.95 L173.12,311.93 L176.01,311.92 L178.91,311.91 L181.81,311.89 L184.70,311.87 L187.60,311.85 L190.49,311.83 L193.39,311.81 L196.29,311.79 L199.18,311.76 L202.08,311.74 L204.98,311.71 L207.87,311.67 L210.77,311.64 L213.66,311.60 L216.56,311.56 L219.46,311.51 L222.35,311.47 L225.25,311.41 L228.14,311.36 L231.04,311.30 L233.94,311.23 L236.83,311.16 L239.73,311.08 L242.62,311.00 L245.52,310.91 L248.42,310.81 L251.31,310.71 L254.21,310.59 L257.10,310.47 L260.00,310.33 L262.90,310.19 L265.79,310.03 L268.69,309.87 L271.58,309.68 L274.48,309.49 L277.38,309.27 L280.27,309.05 L283.17,308.80 L286.06,308.53 L288.96,308.24 L291.86,307.93 L294.75,307.59 L297.65,307.23 L300.54,306.84 L303.44,306.41 L306.34,305.96 L309.23,305.47 L312.13,304.94 L315.02,304.37 L317.92,303.75 L320.82,303.09 L323.71,302.38 L326.61,301.62 L329.51,300.80 L332.40,299.92 L335.30,298.97 L338.19,297.96 L341.09,296.87 L343.99,295.71 L346.88,294.47 L349.78,293.14 L352.67,291.71 L355.57,290.20 L358.47,288.58 L361.36,286.86 L364.26,285.03 L367.15,283.08 L370.05,281.02 L372.95,278.84 L375.84,276.53 L378.74,274.09 L381.63,271.52 L384.53,268.81 L387.43,265.97 L390.32,263.00 L393.22,259.88 L396.11,256.64 L399.01,253.25 L401.91,249.74 L404.80,246.10 L407.70,242.34 L410.59,238.46 L413.49,234.47 L416.39,230.38 L419.28,226.20 L422.18,221.94 L425.07,217.60 L427.97,213.22 L430.87,208.78 L433.76,204.32 L436.66,199.84 L439.56,195.35 L442.45,190.88 L445.35,186.43 L448.24,182.02 L451.14,177.66 L454.04,173.36 L456.93,169.14 L459.83,165.01 L462.72,160.97" stroke="#fbb81f" stroke-width="2.75" fill="none" stroke-linejoin="round" stroke-linecap="round"/>
<path d="M115.20,312.07 L118.09,312.07 L120.99,312.07 L123.89,312.07 L126.78,312.06 L129.68,312.06 L132.57,312.06 L135.47,312.05 L138.37,312.05 L141.26,312.04 L144.16,312.04 L147.05,312.03 L149.95,312.03 L152.85,312.02 L155.74,312.02 L158.64,312.01 L161.53,312.00 L164.43,311.99 L167.33,311.99 L170.22,311.98 L173.12,311.97 L176.01,311.96 L178.91,311.94 L181.81,311.93 L184.70,311.92 L187.60,311.90 L190.49,311.89 L193.39,311.87 L196.29,311.85 L199.18,311.83 L202.08,311.81 L204.98,311.78 L207.87,311.76 L210.77,311.73 L213.66,311.70 L216.56,311.66 L219.46,311.63 L222.35,311.59 L225.25,311.55 L228.14,311.50 L231.04,311.45 L233.94,311.40 L236.83,311.34 L239.73,311.28 L242.62,311.21 L245.52,311.14 L248.42,311.06 L251.31,310.97 L254.21,310.88 L257.10,310.78 L260.00,310.67 L262.90,310.56 L265.79,310.43 L268.69,310.29 L271.58,310.15 L274.48,309.99 L277.38,309.82 L280.27,309.63 L283.17,309.43 L286.06,309.21 L288.96,308.98 L291.86,308.72 L294.75,308.45 L297.65,308.15 L300.54,307.84 L303.44,307.49 L306.34,307.12 L309.23,306.72 L312.13,306.29 L315.02,305.82 L317.92,305.32 L320.82,304.78 L323.71,304.20 L326.61,303.57 L329.51,302.90 L332.40,302.17 L335.30,301.40 L338.19,300.56 L341.09,299.66 L343.99,298.70 L346.88,297.66 L349.78,296.55 L352.67,295.37 L355.57,294.10 L358.47,292.74 L361.36,291.30 L364.26,289.75 L367.15,288.11 L370.05,286.35 L372.95,284.49 L375.84,282.51 L378.74,280.42 L381.63,278.20 L384.53,275.85 L387.43,273.38 L390.32,270.77 L393.22,268.03 L396.11,265.15 L399.01,262.13 L401.91,258.98 L404.80,255.69 L407.70,252.27 L410.59,248.72 L413.49,245.05 L416.39,241.25 L419.28,237.34 L422.18,233.32 L425.07,229.21 L427.97,225.00 L430.87,220.72 L433.76,216.37 L436.66,211.97 L439.56,207.53 L442.45,203.06 L445.35,198.57 L448.24,194.09 L451.14,189.62 L454.04,185.18 L456.93,180.78 L459.83,176.44 L462.72,172.16" stroke="#c8102e" stroke-width="2.75" fill="none" stroke-linejoin="round" stroke-linecap="round"/>
<path d="M115.20,312.07 L118.09,312.07 L120.99,312.07 L123.89,312.07 L126.78,312.06 L129.68,312.06 L132.57,312.06 L135.47,312.05 L138.37,312.05 L141.26,312.04 L144.16,312.04 L147.05,312.03 L149.95,312.03 L152.85,312.02 L155.74,312.02 L158.64,312.01 L161.53,312.00 L164.43,311.99 L167.33,311.99 L170.22,311.98 L173.12,311.97 L176.01,311.96 L178.91,311.94 L181.81,311.93 L184.70,311.92 L187.60,311.90 L190.49,311.89 L193.39,311.87 L196.29,311.85 L199.18,311.83 L202.08,311.81 L204.98,311.78 L207.87,311.76 L210.77,311.73 L213.66,311.70 L216.56,311.66 L219.46,311.63 L222.35,311.59 L225.25,311.55 L228.14,311.50 L231.04,311.45 L233.94,311.40 L236.83,311.34 L239.73,311.28 L242.62,311.21 L245.52,311.14 L248.42,311.06 L251.31,310.97 L254.21,310.88 L257.10,310.78 L260.00,310.67 L262.90,310.56 L265.79,310.43 L268.69,310.29 L271.58,310.15 L274.48,309.99 L277.38,309.82 L280.27,309.63 L283.17,309.43 L286.06,309.21 L288.96,308.98 L291.86,308.72 L294.75,308.45 L297.65,308.15 L300.54,307.84 L303.44,307.49 L306.34,307.12 L309.23,306.72 L312.13,306.29 L315.02,305.82 L317.92,305.32 L320.82,304.78 L323.71,304.20 L326.61,303.57 L329.51,302.90 L332.40,302.17 L335.30,301.40 L338.19,300.56 L341.09,299.66 L343.99,298.70 L346.88,297.66 L349.78,296.55 L352.67,295.37 L355.57,294.10 L358.47,292.74 L361.36,291.30 L364.26,289.75 L367.15,288.11 L370.05,286.35 L372.95,284.49 L375.84,282.51 L378.74,280.42 L381.63,278.20 L384.53,275.85 L387.43,273.38 L390.32,270.77 L393.22,268.03 L396.11,265.15 L399.01,262.13 L401.91,258.98 L404.80,255.69 L407.70,252.27 L410.59,248.72 L413.49,245.05 L416.39,241.25 L419.28,237.34 L422.18,233.32 L425.07,229.21 L427.97,225.00 L430.87,220.72 L433.76,216.37 L436.66,211.97 L439.56,207.53 L442.45,203.06 L445.35,198.57 L448.24,194.09 L451.14,189.62 L454.04,185.18 L456.93,180.78 L459.83,176.44 L462.72,172.16" stroke="#1b5691" stroke-width="2.75" fill="none" stroke-linejoin="round" stroke-linecap="round"/>
<circle cx="149.10" cy="256.56" r="3.7" fill="#465265"/>
<circle cx="189.30" cy="218.93" r="3.7" fill="#465265"/>
<circle cx="229.50" cy="174.04" r="3.7" fill="#465265"/>
<circle cx="269.70" cy="125.75" r="3.7" fill="#465265"/>
<circle cx="309.90" cy="107.39" r="3.7" fill="#465265"/>
<circle cx="350.10" cy="86.99" r="3.7" fill="#465265"/>
<circle cx="390.30" cy="85.40" r="3.7" fill="#465265"/>
<circle cx="430.50" cy="82.45" r="3.7" fill="#465265"/>
<circle cx="138.40" cy="259.28" r="3.7" fill="#e6138b"/>
<circle cx="178.60" cy="230.03" r="3.7" fill="#e6138b"/>
<circle cx="218.80" cy="203.74" r="3.7" fill="#e6138b"/>
<circle cx="259.00" cy="132.78" r="3.7" fill="#e6138b"/>
<circle cx="299.20" cy="110.56" r="3.7" fill="#e6138b"/>
<circle cx="339.40" cy="67.49" r="3.7" fill="#e6138b"/>
<circle cx="379.60" cy="86.53" r="3.7" fill="#e6138b"/>
<circle cx="419.80" cy="78.15" r="3.7" fill="#e6138b"/>
<circle cx="138.40" cy="287.39" r="3.7" fill="#0c6a55"/>
<circle cx="178.60" cy="271.97" r="3.7" fill="#0c6a55"/>
<circle cx="218.80" cy="249.30" r="3.7" fill="#0c6a55"/>
<circle cx="259.00" cy="211.67" r="3.7" fill="#0c6a55"/>
<circle cx="299.20" cy="166.11" r="3.7" fill="#0c6a55"/>
<circle cx="339.40" cy="124.39" r="3.7" fill="#0c6a55"/>
<circle cx="379.60" cy="85.17" r="3.7" fill="#0c6a55"/>
<circle cx="419.80" cy="85.40" r="3.7" fill="#0c6a55"/>
<circle cx="138.40" cy="300.54" r="3.7" fill="#f7901e"/>
<circle cx="178.60" cy="282.40" r="3.7" fill="#f7901e"/>
<circle cx="218.80" cy="253.38" r="3.7" fill="#f7901e"/>
<circle cx="259.00" cy="209.40" r="3.7" fill="#f7901e"/>
<circle cx="299.20" cy="161.57" r="3.7" fill="#f7901e"/>
<circle cx="339.40" cy="128.25" r="3.7" fill="#f7901e"/>
<circle cx="379.60" cy="109.66" r="3.7" fill="#f7901e"/>
<circle cx="419.80" cy="85.17" r="3.7" fill="#f7901e"/>
<circle cx="138.40" cy="297.82" r="3.7" fill="#2ca9e1"/>
<circle cx="178.60" cy="288.07" r="3.7" fill="#2ca9e1"/>
<circle cx="218.80" cy="272.20" r="3.7" fill="#2ca9e1"/>
<circle cx="259.00" cy="245.00" r="3.7" fill="#2ca9e1"/>
<circle cx="299.20" cy="197.84" r="3.7" fill="#2ca9e1"/>
<circle cx="339.40" cy="164.75" r="3.7" fill="#2ca9e1"/>
<circle cx="379.60" cy="106.03" r="3.7" fill="#2ca9e1"/>
<circle cx="419.80" cy="91.29" r="3.7" fill="#2ca9e1"/>
<circle cx="138.40" cy="312.10" r="3.7" fill="#5b2673"/>
<circle cx="178.60" cy="310.97" r="3.7" fill="#5b2673"/>
<circle cx="218.80" cy="301.90" r="3.7" fill="#5b2673"/>
<circle cx="259.00" cy="287.16" r="3.7" fill="#5b2673"/>
<circle cx="299.20" cy="252.25" r="3.7" fill="#5b2673"/>
<circle cx="339.40" cy="206.00" r="3.7" fill="#5b2673"/>
<circle cx="379.60" cy="152.50" r="3.7" fill="#5b2673"/>
<circle cx="419.80" cy="126.21" r="3.7" fill="#5b2673"/>
<circle cx="138.40" cy="312.10" r="3.7" fill="#3bb44a"/>
<circle cx="178.60" cy="309.83" r="3.7" fill="#3bb44a"/>
<circle cx="218.80" cy="298.95" r="3.7" fill="#3bb44a"/>
<circle cx="259.00" cy="287.16" r="3.7" fill="#3bb44a"/>
<circle cx="299.20" cy="265.40" r="3.7" fill="#3bb44a"/>
<circle cx="339.40" cy="224.82" r="3.7" fill="#3bb44a"/>
<circle cx="379.60" cy="177.89" r="3.7" fill="#3bb44a"/>
<circle cx="419.80" cy="126.21" r="3.7" fill="#3bb44a"/>
<circle cx="138.40" cy="309.61" r="3.7" fill="#b4692c"/>
<circle cx="178.60" cy="306.21" r="3.7" fill="#b4692c"/>
<circle cx="218.80" cy="303.26" r="3.7" fill="#b4692c"/>
<circle cx="259.00" cy="298.95" r="3.7" fill="#b4692c"/>
<circle cx="299.20" cy="285.80" r="3.7" fill="#b4692c"/>
<circle cx="339.40" cy="260.41" r="3.7" fill="#b4692c"/>
<circle cx="379.60" cy="218.70" r="3.7" fill="#b4692c"/>
<circle cx="419.80" cy="171.32" r="3.7" fill="#b4692c"/>
<circle cx="138.40" cy="312.10" r="3.7" fill="#fbb81f"/>
<circle cx="178.60" cy="312.10" r="3.7" fill="#fbb81f"/>
<circle cx="218.80" cy="311.65" r="3.7" fill="#fbb81f"/>
<circle cx="259.00" cy="310.97" r="3.7" fill="#fbb81f"/>
<circle cx="299.20" cy="307.79" r="3.7" fill="#fbb81f"/>
<circle cx="339.40" cy="297.14" r="3.7" fill="#fbb81f"/>
<circle cx="379.60" cy="272.43" r="3.7" fill="#fbb81f"/>
<circle cx="419.80" cy="226.41" r="3.7" fill="#fbb81f"/>
<circle cx="138.40" cy="312.10" r="3.7" fill="#c8102e"/>
<circle cx="178.60" cy="312.10" r="3.7" fill="#c8102e"/>
<circle cx="218.80" cy="311.65" r="3.7" fill="#c8102e"/>
<circle cx="259.00" cy="311.65" r="3.7" fill="#c8102e"/>
<circle cx="299.20" cy="307.79" r="3.7" fill="#c8102e"/>
<circle cx="339.40" cy="297.14" r="3.7" fill="#c8102e"/>
<circle cx="379.60" cy="272.43" r="3.7" fill="#c8102e"/>
<circle cx="419.80" cy="227.09" r="3.7" fill="#c8102e"/>
<circle cx="138.40" cy="312.10" r="3.7" fill="#1b5691"/>
<circle cx="178.60" cy="312.10" r="3.7" fill="#1b5691"/>
<circle cx="218.80" cy="309.83" r="3.7" fill="#1b5691"/>
<circle cx="259.00" cy="307.79" r="3.7" fill="#1b5691"/>
<circle cx="299.20" cy="302.81" r="3.7" fill="#1b5691"/>
<circle cx="339.40" cy="294.64" r="3.7" fill="#1b5691"/>
<circle cx="379.60" cy="281.04" r="3.7" fill="#1b5691"/>
<circle cx="419.80" cy="237.52" r="3.7" fill="#1b5691"/>
<text x="13.4" y="409.6" font-family="Liberation Sans, sans-serif" font-weight="bold" font-size="24" fill="#000">B</text>
<text transform="translate(30.3,622.7) rotate(-90)" x="0" y="0" font-family="Liberation Sans, sans-serif" font-size="19" textLength="137.3" lengthAdjust="spacingAndGlyphs" fill="#000">Normalized binding</text>
<line x1="75.25" y1="411.25" x2="75.25" y2="693.1" stroke="#000" stroke-width="2.1"/>
<line x1="68.7" y1="692.1" x2="505" y2="692.1" stroke="#000" stroke-width="2.1"/>
<line x1="68.7" y1="692.10" x2="75" y2="692.10" stroke="#000" stroke-width="2"/>
<text x="64.6" y="697.50" font-family="Liberation Sans, sans-serif" font-size="15.8" text-anchor="end" fill="#000">0.0</text>
<line x1="68.7" y1="646.76" x2="75" y2="646.76" stroke="#000" stroke-width="2"/>
<text x="64.6" y="652.16" font-family="Liberation Sans, sans-serif" font-size="15.8" text-anchor="end" fill="#000">0.2</text>
<line x1="68.7" y1="601.42" x2="75" y2="601.42" stroke="#000" stroke-width="2"/>
<text x="64.6" y="606.82" font-family="Liberation Sans, sans-serif" font-size="15.8" text-anchor="end" fill="#000">0.4</text>
<line x1="68.7" y1="556.08" x2="75" y2="556.08" stroke="#000" stroke-width="2"/>
<text x="64.6" y="561.48" font-family="Liberation Sans, sans-serif" font-size="15.8" text-anchor="end" fill="#000">0.6</text>
<line x1="68.7" y1="510.74" x2="75" y2="510.74" stroke="#000" stroke-width="2"/>
<text x="64.6" y="516.14" font-family="Liberation Sans, sans-serif" font-size="15.8" text-anchor="end" fill="#000">0.8</text>
<line x1="68.7" y1="465.40" x2="75" y2="465.40" stroke="#000" stroke-width="2"/>
<text x="64.6" y="470.80" font-family="Liberation Sans, sans-serif" font-size="15.8" text-anchor="end" fill="#000">1.0</text>
<line x1="68.7" y1="420.06" x2="75" y2="420.06" stroke="#000" stroke-width="2"/>
<text x="64.6" y="425.46" font-family="Liberation Sans, sans-serif" font-size="15.8" text-anchor="end" fill="#000">1.2</text>
<line x1="75.00" y1="692.1" x2="75.00" y2="699.10" stroke="#000" stroke-width="2"/>
<text x="75.00" y="716.50" font-family="Liberation Sans, sans-serif" font-size="15.8" text-anchor="middle" fill="#000">0.0001</text>
<line x1="100.36" y1="692.1" x2="100.36" y2="697.30" stroke="#000" stroke-width="1.9"/>
<line x1="115.20" y1="692.1" x2="115.20" y2="697.30" stroke="#000" stroke-width="1.9"/>
<line x1="125.72" y1="692.1" x2="125.72" y2="697.30" stroke="#000" stroke-width="1.9"/>
<line x1="133.89" y1="692.1" x2="133.89" y2="697.30" stroke="#000" stroke-width="1.9"/>
<line x1="140.56" y1="692.1" x2="140.56" y2="697.30" stroke="#000" stroke-width="1.9"/>
<line x1="146.20" y1="692.1" x2="146.20" y2="697.30" stroke="#000" stroke-width="1.9"/>
<line x1="151.09" y1="692.1" x2="151.09" y2="697.30" stroke="#000" stroke-width="1.9"/>
<line x1="155.39" y1="692.1" x2="155.39" y2="697.30" stroke="#000" stroke-width="1.9"/>
<line x1="159.25" y1="692.1" x2="159.25" y2="699.10" stroke="#000" stroke-width="2"/>
<text x="159.25" y="716.50" font-family="Liberation Sans, sans-serif" font-size="15.8" text-anchor="middle" fill="#000">0.001</text>
<line x1="184.61" y1="692.1" x2="184.61" y2="697.30" stroke="#000" stroke-width="1.9"/>
<line x1="199.45" y1="692.1" x2="199.45" y2="697.30" stroke="#000" stroke-width="1.9"/>
<line x1="209.97" y1="692.1" x2="209.97" y2="697.30" stroke="#000" stroke-width="1.9"/>
<line x1="218.14" y1="692.1" x2="218.14" y2="697.30" stroke="#000" stroke-width="1.9"/>
<line x1="224.81" y1="692.1" x2="224.81" y2="697.30" stroke="#000" stroke-width="1.9"/>
<line x1="230.45" y1="692.1" x2="230.45" y2="697.30" stroke="#000" stroke-width="1.9"/>
<line x1="235.34" y1="692.1" x2="235.34" y2="697.30" stroke="#000" stroke-width="1.9"/>
<line x1="239.64" y1="692.1" x2="239.64" y2="697.30" stroke="#000" stroke-width="1.9"/>
<line x1="243.50" y1="692.1" x2="243.50" y2="699.10" stroke="#000" stroke-width="2"/>
<text x="243.50" y="716.50" font-family="Liberation Sans, sans-serif" font-size="15.8" text-anchor="middle" fill="#000">0.01</text>
<line x1="268.86" y1="692.1" x2="268.86" y2="697.30" stroke="#000" stroke-width="1.9"/>
<line x1="283.70" y1="692.1" x2="283.70" y2="697.30" stroke="#000" stroke-width="1.9"/>
<line x1="294.22" y1="692.1" x2="294.22" y2="697.30" stroke="#000" stroke-width="1.9"/>
<line x1="302.39" y1="692.1" x2="302.39" y2="697.30" stroke="#000" stroke-width="1.9"/>
<line x1="309.06" y1="692.1" x2="309.06" y2="697.30" stroke="#000" stroke-width="1.9"/>
<line x1="314.70" y1="692.1" x2="314.70" y2="697.30" stroke="#000" stroke-width="1.9"/>
<line x1="319.59" y1="692.1" x2="319.59" y2="697.30" stroke="#000" stroke-width="1.9"/>
<line x1="323.89" y1="692.1" x2="323.89" y2="697.30" stroke="#000" stroke-width="1.9"/>
<line x1="327.75" y1="692.1" x2="327.75" y2="699.10" stroke="#000" stroke-width="2"/>
<text x="327.75" y="716.50" font-family="Liberation Sans, sans-serif" font-size="15.8" text-anchor="middle" fill="#000">0.1</text>
<line x1="353.11" y1="692.1" x2="353.11" y2="697.30" stroke="#000" stroke-width="1.9"/>
<line x1="367.95" y1="692.1" x2="367.95" y2="697.30" stroke="#000" stroke-width="1.9"/>
<line x1="378.47" y1="692.1" x2="378.47" y2="697.30" stroke="#000" stroke-width="1.9"/>
<line x1="386.64" y1="692.1" x2="386.64" y2="697.30" stroke="#000" stroke-width="1.9"/>
<line x1="393.31" y1="692.1" x2="393.31" y2="697.30" stroke="#000" stroke-width="1.9"/>
<line x1="398.95" y1="692.1" x2="398.95" y2="697.30" stroke="#000" stroke-width="1.9"/>
<line x1="403.84" y1="692.1" x2="403.84" y2="697.30" stroke="#000" stroke-width="1.9"/>
<line x1="408.14" y1="692.1" x2="408.14" y2="697.30" stroke="#000" stroke-width="1.9"/>
<line x1="412.00" y1="692.1" x2="412.00" y2="699.10" stroke="#000" stroke-width="2"/>
<text x="412.00" y="716.50" font-family="Liberation Sans, sans-serif" font-size="15.8" text-anchor="middle" fill="#000">1</text>
<line x1="437.36" y1="692.1" x2="437.36" y2="697.30" stroke="#000" stroke-width="1.9"/>
<line x1="452.20" y1="692.1" x2="452.20" y2="697.30" stroke="#000" stroke-width="1.9"/>
<line x1="462.72" y1="692.1" x2="462.72" y2="697.30" stroke="#000" stroke-width="1.9"/>
<line x1="470.89" y1="692.1" x2="470.89" y2="697.30" stroke="#000" stroke-width="1.9"/>
<line x1="477.56" y1="692.1" x2="477.56" y2="697.30" stroke="#000" stroke-width="1.9"/>
<line x1="483.20" y1="692.1" x2="483.20" y2="697.30" stroke="#000" stroke-width="1.9"/>
<line x1="488.09" y1="692.1" x2="488.09" y2="697.30" stroke="#000" stroke-width="1.9"/>
<line x1="492.39" y1="692.1" x2="492.39" y2="697.30" stroke="#000" stroke-width="1.9"/>
<line x1="496.25" y1="692.1" x2="496.25" y2="699.10" stroke="#000" stroke-width="2"/>
<text x="496.25" y="716.50" font-family="Liberation Sans, sans-serif" font-size="15.8" text-anchor="middle" fill="#000">10</text>
<text x="245.6" y="745.40" font-family="Liberation Sans, sans-serif" font-size="18.8" textLength="41.8" lengthAdjust="spacingAndGlyphs" fill="#000">[GPVI]</text>
<text x="290.1" y="745.40" font-family="Liberation Sans, sans-serif" font-size="18.8" textLength="38.0" lengthAdjust="spacingAndGlyphs" fill="#000">(µM)</text>
<text x="219.0" y="429.4" font-family="Liberation Sans, sans-serif" font-size="19.6" textLength="90.6" lengthAdjust="spacingAndGlyphs" fill="#000">Collagen I</text>
<line x1="218.9" y1="431.4" x2="309.4" y2="431.4" stroke="#333" stroke-width="1.4"/>
<circle cx="92.0" cy="422.60" r="3.6" fill="#465265"/>
<text x="101.89999999999999" y="427.10" font-family="Liberation Sans, sans-serif" font-size="15.4" fill="#000">WT</text>
<circle cx="92.0" cy="439.00" r="3.6" fill="#f7901e"/>
<text x="101.89999999999999" y="443.50" font-family="Liberation Sans, sans-serif" font-size="15.4" fill="#000" textLength="41.9" lengthAdjust="spacingAndGlyphs">Q71A</text>
<circle cx="92.0" cy="455.40" r="3.6" fill="#0c6a55"/>
<text x="101.89999999999999" y="459.90" font-family="Liberation Sans, sans-serif" font-size="15.4" fill="#000">L36A</text>
<circle cx="92.0" cy="471.80" r="3.6" fill="#e6138b"/>
<text x="101.89999999999999" y="476.30" font-family="Liberation Sans, sans-serif" font-size="15.4" fill="#000" textLength="41.9" lengthAdjust="spacingAndGlyphs">Q82A</text>
<circle cx="92.0" cy="488.20" r="3.6" fill="#2ca9e1"/>
<text x="101.89999999999999" y="492.70" font-family="Liberation Sans, sans-serif" font-size="15.4" fill="#000" textLength="36.7" lengthAdjust="spacingAndGlyphs">S69A</text>
<circle cx="92.0" cy="504.60" r="3.6" fill="#5b2673"/>
<text x="101.89999999999999" y="509.10" font-family="Liberation Sans, sans-serif" font-size="15.4" fill="#000">Y47A</text>
<circle cx="92.0" cy="521.00" r="3.6" fill="#3bb44a"/>
<text x="101.89999999999999" y="525.50" font-family="Liberation Sans, sans-serif" font-size="15.4" fill="#000">R67A</text>
<circle cx="92.0" cy="537.40" r="3.6" fill="#b4692c"/>
<text x="101.89999999999999" y="541.90" font-family="Liberation Sans, sans-serif" font-size="15.4" fill="#000">D49A</text>
<circle cx="92.0" cy="553.80" r="3.6" fill="#c8102e"/>
<text x="101.89999999999999" y="558.30" font-family="Liberation Sans, sans-serif" font-size="15.4" fill="#000">R38A</text>
<circle cx="92.0" cy="570.20" r="3.6" fill="#1b5691"/>
<text x="101.89999999999999" y="574.70" font-family="Liberation Sans, sans-serif" font-size="15.4" fill="#000">E40A</text>
<circle cx="92.0" cy="586.60" r="3.6" fill="#fbb81f"/>
<text x="101.89999999999999" y="591.10" font-family="Liberation Sans, sans-serif" font-size="15.4" fill="#000">W76A</text>
<path d="M145.80,677.82H152.40M149.10,677.82V685.53M145.80,685.53H152.40" stroke="#000" stroke-width="1.5" fill="none"/>
<path d="M186.00,664.44H192.60M189.30,664.44V679.86M186.00,679.86H192.60" stroke="#000" stroke-width="1.5" fill="none"/>
<path d="M226.20,636.33H232.80M229.50,636.33V661.72M226.20,661.72H232.80" stroke="#000" stroke-width="1.5" fill="none"/>
<path d="M266.40,582.60H273.00M269.70,582.60V618.88M266.40,618.88H273.00" stroke="#000" stroke-width="1.5" fill="none"/>
<path d="M306.60,526.84H313.20M309.90,526.84V556.31M306.60,556.31H313.20" stroke="#000" stroke-width="1.5" fill="none"/>
<path d="M346.80,476.74H353.40M350.10,476.74V514.82M346.80,514.82H353.40" stroke="#000" stroke-width="1.5" fill="none"/>
<path d="M387.00,474.47H393.60M390.30,474.47V483.54M387.00,483.54H393.60" stroke="#000" stroke-width="1.5" fill="none"/>
<path d="M427.20,458.15H433.80M430.50,458.15V477.64M427.20,477.64H433.80" stroke="#000" stroke-width="1.5" fill="none"/>
<path d="M135.10,685.30H141.70M138.40,685.30V689.83M135.10,689.83H141.70" stroke="#000" stroke-width="1.5" fill="none"/>
<path d="M175.30,678.72H181.90M178.60,678.72V685.53M175.30,685.53H181.90" stroke="#000" stroke-width="1.5" fill="none"/>
<path d="M215.50,663.99H222.10M218.80,663.99V681.22M215.50,681.22H222.10" stroke="#000" stroke-width="1.5" fill="none"/>
<path d="M255.70,632.70H262.30M259.00,632.70V666.26M255.70,666.26H262.30" stroke="#000" stroke-width="1.5" fill="none"/>
<path d="M295.90,572.40H302.50M299.20,572.40V636.33M295.90,636.33H302.50" stroke="#000" stroke-width="1.5" fill="none"/>
<path d="M336.10,515.95H342.70M339.40,515.95V579.43M336.10,579.43H342.70" stroke="#000" stroke-width="1.5" fill="none"/>
<path d="M376.30,454.97H382.90M379.60,454.97V535.22M376.30,535.22H382.90" stroke="#000" stroke-width="1.5" fill="none"/>
<path d="M416.50,454.29H423.10M419.80,454.29V485.58M416.50,485.58H423.10" stroke="#000" stroke-width="1.5" fill="none"/>
<path d="M135.10,688.25H141.70M138.40,688.25V690.51M135.10,690.51H141.70" stroke="#000" stroke-width="1.5" fill="none"/>
<path d="M175.30,683.26H181.90M178.60,683.26V687.79M175.30,687.79H181.90" stroke="#000" stroke-width="1.5" fill="none"/>
<path d="M215.50,674.19H222.10M218.80,674.19V680.99M215.50,680.99H222.10" stroke="#000" stroke-width="1.5" fill="none"/>
<path d="M255.70,653.79H262.30M259.00,653.79V671.47M255.70,671.47H262.30" stroke="#000" stroke-width="1.5" fill="none"/>
<path d="M295.90,617.97H302.50M299.20,617.97V652.43M295.90,652.43H302.50" stroke="#000" stroke-width="1.5" fill="none"/>
<path d="M336.10,566.05H342.70M339.40,566.05V616.38M336.10,616.38H342.70" stroke="#000" stroke-width="1.5" fill="none"/>
<path d="M376.30,525.02H382.90M379.60,525.02V565.37M376.30,565.37H382.90" stroke="#000" stroke-width="1.5" fill="none"/>
<path d="M416.50,474.47H423.10M419.80,474.47V542.48M416.50,542.48H423.10" stroke="#000" stroke-width="1.5" fill="none"/>
<path d="M135.10,689.15H141.70M138.40,689.15V691.42M135.10,691.42H141.70" stroke="#000" stroke-width="1.5" fill="none"/>
<path d="M175.30,686.43H181.90M178.60,686.43V688.70M175.30,688.70H181.90" stroke="#000" stroke-width="1.5" fill="none"/>
<path d="M215.50,680.76H222.10M218.80,680.76V685.30M215.50,685.30H222.10" stroke="#000" stroke-width="1.5" fill="none"/>
<path d="M255.70,668.98H262.30M259.00,668.98V678.04M255.70,678.04H262.30" stroke="#000" stroke-width="1.5" fill="none"/>
<path d="M295.90,637.01H302.50M299.20,637.01V661.50M295.90,661.50H302.50" stroke="#000" stroke-width="1.5" fill="none"/>
<path d="M336.10,600.97H342.70M339.40,600.97V628.62M336.10,628.62H342.70" stroke="#000" stroke-width="1.5" fill="none"/>
<path d="M376.30,566.51H382.90M379.60,566.51V603.23M376.30,603.23H382.90" stroke="#000" stroke-width="1.5" fill="none"/>
<path d="M416.50,541.34H423.10M419.80,541.34V558.57M416.50,558.57H423.10" stroke="#000" stroke-width="1.5" fill="none"/>
<path d="M175.30,688.70H181.90M178.60,688.70V690.97M175.30,690.97H181.90" stroke="#000" stroke-width="1.5" fill="none"/>
<path d="M215.50,685.98H222.10M218.80,685.98V688.25M215.50,688.25H222.10" stroke="#000" stroke-width="1.5" fill="none"/>
<path d="M255.70,679.18H262.30M259.00,679.18V683.71M255.70,683.71H262.30" stroke="#000" stroke-width="1.5" fill="none"/>
<path d="M295.90,660.82H302.50M299.20,660.82V681.22M295.90,681.22H302.50" stroke="#000" stroke-width="1.5" fill="none"/>
<path d="M336.10,635.88H342.70M339.40,635.88V669.43M336.10,669.43H342.70" stroke="#000" stroke-width="1.5" fill="none"/>
<path d="M376.30,597.11H382.90M379.60,597.11V649.25M376.30,649.25H382.90" stroke="#000" stroke-width="1.5" fill="none"/>
<path d="M416.50,564.01H423.10M419.80,564.01V620.24M416.50,620.24H423.10" stroke="#000" stroke-width="1.5" fill="none"/>
<path d="M295.90,688.70H302.50M299.20,688.70V690.97M295.90,690.97H302.50" stroke="#000" stroke-width="1.5" fill="none"/>
<path d="M336.10,683.03H342.70M339.40,683.03V687.57M336.10,687.57H342.70" stroke="#000" stroke-width="1.5" fill="none"/>
<path d="M376.30,663.99H382.90M379.60,663.99V686.21M376.30,686.21H382.90" stroke="#000" stroke-width="1.5" fill="none"/>
<path d="M416.50,647.44H423.10M419.80,647.44V658.78M416.50,658.78H423.10" stroke="#000" stroke-width="1.5" fill="none"/>
<path d="M295.90,688.70H302.50M299.20,688.70V690.97M295.90,690.97H302.50" stroke="#000" stroke-width="1.5" fill="none"/>
<path d="M336.10,685.30H342.70M339.40,685.30V689.83M336.10,689.83H342.70" stroke="#000" stroke-width="1.5" fill="none"/>
<path d="M376.30,676.23H382.90M379.60,676.23V685.30M376.30,685.30H382.90" stroke="#000" stroke-width="1.5" fill="none"/>
<path d="M416.50,627.72H423.10M419.80,627.72V683.94M416.50,683.94H423.10" stroke="#000" stroke-width="1.5" fill="none"/>
<path d="M295.90,688.93H302.50M299.20,688.93V691.19M295.90,691.19H302.50" stroke="#000" stroke-width="1.5" fill="none"/>
<path d="M336.10,683.71H342.70M339.40,683.71V688.25M336.10,688.25H342.70" stroke="#000" stroke-width="1.5" fill="none"/>
<path d="M376.30,670.56H382.90M379.60,670.56V689.15M376.30,689.15H382.90" stroke="#000" stroke-width="1.5" fill="none"/>
<path d="M416.50,658.78H423.10M419.80,658.78V673.28M416.50,673.28H423.10" stroke="#000" stroke-width="1.5" fill="none"/>
<path d="M387.00,683.03H393.60M390.30,683.03V687.57M387.00,687.57H393.60" stroke="#000" stroke-width="1.5" fill="none"/>
<path d="M427.20,667.84H433.80M430.50,667.84V676.00M427.20,676.00H433.80" stroke="#000" stroke-width="1.5" fill="none"/>
<path d="M346.80,686.89H353.40M350.10,686.89V689.15M346.80,689.15H353.40" stroke="#000" stroke-width="1.5" fill="none"/>
<path d="M387.00,682.35H393.60M390.30,682.35V686.89M387.00,686.89H393.60" stroke="#000" stroke-width="1.5" fill="none"/>
<path d="M427.20,672.60H433.80M430.50,672.60V681.67M427.20,681.67H433.80" stroke="#000" stroke-width="1.5" fill="none"/>
<path d="M387.00,688.02H393.60M390.30,688.02V690.29M387.00,690.29H393.60" stroke="#000" stroke-width="1.5" fill="none"/>
<path d="M427.20,680.76H433.80M430.50,680.76V686.66M427.20,686.66H433.80" stroke="#000" stroke-width="1.5" fill="none"/>
<path d="M115.20,689.86 L118.09,689.67 L120.99,689.47 L123.89,689.26 L126.78,689.03 L129.68,688.78 L132.57,688.51 L135.47,688.22 L138.37,687.91 L141.26,687.57 L144.16,687.21 L147.05,686.81 L149.95,686.39 L152.85,685.93 L155.74,685.44 L158.64,684.90 L161.53,684.33 L164.43,683.72 L167.33,683.05 L170.22,682.34 L173.12,681.57 L176.01,680.75 L178.91,679.87 L181.81,678.92 L184.70,677.90 L187.60,676.81 L190.49,675.64 L193.39,674.39 L196.29,673.05 L199.18,671.63 L202.08,670.10 L204.98,668.48 L207.87,666.75 L210.77,664.91 L213.66,662.96 L216.56,660.89 L219.46,658.70 L222.35,656.38 L225.25,653.94 L228.14,651.36 L231.04,648.65 L233.94,645.80 L236.83,642.81 L239.73,639.69 L242.62,636.44 L245.52,633.05 L248.42,629.52 L251.31,625.88 L254.21,622.11 L257.10,618.22 L260.00,614.22 L262.90,610.13 L265.79,605.94 L268.69,601.68 L271.58,597.34 L274.48,592.95 L277.38,588.52 L280.27,584.05 L283.17,579.57 L286.06,575.08 L288.96,570.61 L291.86,566.16 L294.75,561.76 L297.65,557.40 L300.54,553.11 L303.44,548.89 L306.34,544.76 L309.23,540.73 L312.13,536.80 L315.02,532.99 L317.92,529.29 L320.82,525.73 L323.71,522.29 L326.61,518.98 L329.51,515.81 L332.40,512.78 L335.30,509.88 L338.19,507.12 L341.09,504.49 L343.99,501.99 L346.88,499.63 L349.78,497.39 L352.67,495.28 L355.57,493.28 L358.47,491.41 L361.36,489.64 L364.26,487.98 L367.15,486.42 L370.05,484.96 L372.95,483.59 L375.84,482.31 L378.74,481.11 L381.63,479.99 L384.53,478.95 L387.43,477.97 L390.32,477.07 L393.22,476.22 L396.11,475.43 L399.01,474.70 L401.91,474.02 L404.80,473.39 L407.70,472.80 L410.59,472.25 L413.49,471.75 L416.39,471.28 L419.28,470.84 L422.18,470.44 L425.07,470.06 L427.97,469.71 L430.87,469.39 L433.76,469.09 L436.66,468.81 L439.56,468.56 L442.45,468.32 L445.35,468.10 L448.24,467.90 L451.14,467.71 L454.04,467.54 L456.93,467.37 L459.83,467.23 L462.72,467.09" stroke="#465265" stroke-width="2.75" fill="none" stroke-linejoin="round" stroke-linecap="round"/>
<path d="M115.20,691.13 L118.09,691.05 L120.99,690.97 L123.89,690.87 L126.78,690.77 L129.68,690.67 L132.57,690.55 L135.47,690.42 L138.37,690.28 L141.26,690.14 L144.16,689.98 L147.05,689.80 L149.95,689.62 L152.85,689.41 L155.74,689.20 L158.64,688.96 L161.53,688.70 L164.43,688.43 L167.33,688.13 L170.22,687.81 L173.12,687.47 L176.01,687.09 L178.91,686.69 L181.81,686.26 L184.70,685.79 L187.60,685.28 L190.49,684.74 L193.39,684.16 L196.29,683.53 L199.18,682.85 L202.08,682.12 L204.98,681.34 L207.87,680.50 L210.77,679.59 L213.66,678.62 L216.56,677.58 L219.46,676.47 L222.35,675.28 L225.25,674.00 L228.14,672.64 L231.04,671.19 L233.94,669.63 L236.83,667.98 L239.73,666.22 L242.62,664.35 L245.52,662.37 L248.42,660.26 L251.31,658.03 L254.21,655.68 L257.10,653.19 L260.00,650.57 L262.90,647.82 L265.79,644.93 L268.69,641.91 L271.58,638.75 L274.48,635.45 L277.38,632.02 L280.27,628.46 L283.17,624.78 L286.06,620.97 L288.96,617.05 L291.86,613.03 L294.75,608.90 L297.65,604.69 L300.54,600.41 L303.44,596.05 L306.34,591.65 L309.23,587.20 L312.13,582.73 L315.02,578.25 L317.92,573.76 L320.82,569.30 L323.71,564.86 L326.61,560.46 L329.51,556.12 L332.40,551.85 L335.30,547.66 L338.19,543.56 L341.09,539.56 L343.99,535.66 L346.88,531.88 L349.78,528.23 L352.67,524.70 L355.57,521.30 L358.47,518.03 L361.36,514.90 L364.26,511.91 L367.15,509.05 L370.05,506.33 L372.95,503.74 L375.84,501.28 L378.74,498.96 L381.63,496.76 L384.53,494.68 L387.43,492.72 L390.32,490.87 L393.22,489.14 L396.11,487.51 L399.01,485.98 L401.91,484.54 L404.80,483.20 L407.70,481.95 L410.59,480.77 L413.49,479.68 L416.39,478.65 L419.28,477.70 L422.18,476.81 L425.07,475.98 L427.97,475.21 L430.87,474.50 L433.76,473.83 L436.66,473.21 L439.56,472.63 L442.45,472.10 L445.35,471.60 L448.24,471.14 L451.14,470.72 L454.04,470.32 L456.93,469.95 L459.83,469.61 L462.72,469.30" stroke="#f7901e" stroke-width="2.75" fill="none" stroke-linejoin="round" stroke-linecap="round"/>
<path d="M115.20,691.72 L118.09,691.69 L120.99,691.66 L123.89,691.62 L126.78,691.58 L129.68,691.54 L132.57,691.49 L135.47,691.44 L138.37,691.39 L141.26,691.33 L144.16,691.27 L147.05,691.20 L149.95,691.13 L152.85,691.05 L155.74,690.96 L158.64,690.87 L161.53,690.77 L164.43,690.66 L167.33,690.54 L170.22,690.41 L173.12,690.27 L176.01,690.13 L178.91,689.96 L181.81,689.79 L184.70,689.60 L187.60,689.40 L190.49,689.18 L193.39,688.94 L196.29,688.69 L199.18,688.41 L202.08,688.11 L204.98,687.79 L207.87,687.44 L210.77,687.07 L213.66,686.66 L216.56,686.23 L219.46,685.75 L222.35,685.25 L225.25,684.70 L228.14,684.11 L231.04,683.48 L233.94,682.80 L236.83,682.07 L239.73,681.28 L242.62,680.44 L245.52,679.53 L248.42,678.56 L251.31,677.51 L254.21,676.39 L257.10,675.20 L260.00,673.92 L262.90,672.55 L265.79,671.09 L268.69,669.53 L271.58,667.87 L274.48,666.10 L277.38,664.22 L280.27,662.23 L283.17,660.11 L286.06,657.88 L288.96,655.51 L291.86,653.02 L294.75,650.39 L297.65,647.63 L300.54,644.73 L303.44,641.70 L306.34,638.53 L309.23,635.22 L312.13,631.78 L315.02,628.22 L317.92,624.52 L320.82,620.71 L323.71,616.78 L326.61,612.75 L329.51,608.62 L332.40,604.41 L335.30,600.11 L338.19,595.76 L341.09,591.35 L343.99,586.90 L346.88,582.43 L349.78,577.94 L352.67,573.46 L355.57,569.00 L358.47,564.56 L361.36,560.17 L364.26,555.83 L367.15,551.57 L370.05,547.38 L372.95,543.29 L375.84,539.29 L378.74,535.40 L381.63,531.63 L384.53,527.99 L387.43,524.46 L390.32,521.07 L393.22,517.82 L396.11,514.69 L399.01,511.71 L401.91,508.86 L404.80,506.15 L407.70,503.57 L410.59,501.12 L413.49,498.80 L416.39,496.61 L419.28,494.54 L422.18,492.59 L425.07,490.75 L427.97,489.02 L430.87,487.40 L433.76,485.88 L436.66,484.45 L439.56,483.11 L442.45,481.86 L445.35,480.70 L448.24,479.60 L451.14,478.59 L454.04,477.64 L456.93,476.75 L459.83,475.93 L462.72,475.16" stroke="#0c6a55" stroke-width="2.75" fill="none" stroke-linejoin="round" stroke-linecap="round"/>
<path d="M115.20,691.94 L118.09,691.92 L120.99,691.91 L123.89,691.89 L126.78,691.88 L129.68,691.86 L132.57,691.84 L135.47,691.82 L138.37,691.80 L141.26,691.77 L144.16,691.74 L147.05,691.71 L149.95,691.68 L152.85,691.65 L155.74,691.61 L158.64,691.57 L161.53,691.53 L164.43,691.48 L167.33,691.43 L170.22,691.37 L173.12,691.31 L176.01,691.25 L178.91,691.18 L181.81,691.10 L184.70,691.02 L187.60,690.93 L190.49,690.84 L193.39,690.74 L196.29,690.62 L199.18,690.50 L202.08,690.37 L204.98,690.23 L207.87,690.08 L210.77,689.91 L213.66,689.74 L216.56,689.54 L219.46,689.34 L222.35,689.11 L225.25,688.87 L228.14,688.61 L231.04,688.32 L233.94,688.02 L236.83,687.69 L239.73,687.33 L242.62,686.95 L245.52,686.54 L248.42,686.09 L251.31,685.61 L254.21,685.09 L257.10,684.53 L260.00,683.93 L262.90,683.29 L265.79,682.59 L268.69,681.84 L271.58,681.04 L274.48,680.18 L277.38,679.25 L280.27,678.25 L283.17,677.19 L286.06,676.05 L288.96,674.83 L291.86,673.52 L294.75,672.13 L297.65,670.64 L300.54,669.05 L303.44,667.36 L306.34,665.56 L309.23,663.64 L312.13,661.62 L315.02,659.47 L317.92,657.19 L320.82,654.79 L323.71,652.26 L326.61,649.59 L329.51,646.79 L332.40,643.85 L335.30,640.78 L338.19,637.57 L341.09,634.22 L343.99,630.75 L346.88,627.14 L349.78,623.41 L352.67,619.56 L355.57,615.60 L358.47,611.54 L361.36,607.39 L364.26,603.15 L367.15,598.83 L370.05,594.46 L372.95,590.04 L375.84,585.58 L378.74,581.11 L381.63,576.62 L384.53,572.14 L387.43,567.68 L390.32,563.26 L393.22,558.88 L396.11,554.57 L399.01,550.32 L401.91,546.16 L404.80,542.10 L407.70,538.13 L410.59,534.28 L413.49,530.54 L416.39,526.93 L419.28,523.45 L422.18,520.10 L425.07,516.88 L427.97,513.80 L430.87,510.85 L433.76,508.05 L436.66,505.37 L439.56,502.83 L442.45,500.42 L445.35,498.14 L448.24,495.99 L451.14,493.95 L454.04,492.04 L456.93,490.23 L459.83,488.53 L462.72,486.94" stroke="#e6138b" stroke-width="2.75" fill="none" stroke-linejoin="round" stroke-linecap="round"/>
<path d="M115.20,692.04 L118.09,692.04 L120.99,692.03 L123.89,692.03 L126.78,692.02 L129.68,692.02 L132.57,692.01 L135.47,692.00 L138.37,692.00 L141.26,691.99 L144.16,691.98 L147.05,691.97 L149.95,691.96 L152.85,691.94 L155.74,691.93 L158.64,691.92 L161.53,691.90 L164.43,691.89 L167.33,691.87 L170.22,691.85 L173.12,691.83 L176.01,691.81 L178.91,691.78 L181.81,691.76 L184.70,691.73 L187.60,691.70 L190.49,691.66 L193.39,691.63 L196.29,691.59 L199.18,691.55 L202.08,691.50 L204.98,691.45 L207.87,691.40 L210.77,691.34 L213.66,691.28 L216.56,691.21 L219.46,691.14 L222.35,691.06 L225.25,690.98 L228.14,690.89 L231.04,690.79 L233.94,690.68 L236.83,690.56 L239.73,690.44 L242.62,690.30 L245.52,690.15 L248.42,689.99 L251.31,689.82 L254.21,689.64 L257.10,689.44 L260.00,689.22 L262.90,688.99 L265.79,688.73 L268.69,688.46 L271.58,688.17 L274.48,687.85 L277.38,687.50 L280.27,687.13 L283.17,686.74 L286.06,686.30 L288.96,685.84 L291.86,685.34 L294.75,684.80 L297.65,684.22 L300.54,683.60 L303.44,682.92 L306.34,682.20 L309.23,681.43 L312.13,680.59 L315.02,679.69 L317.92,678.73 L320.82,677.70 L323.71,676.60 L326.61,675.41 L329.51,674.15 L332.40,672.80 L335.30,671.35 L338.19,669.81 L341.09,668.17 L343.99,666.42 L346.88,664.56 L349.78,662.59 L352.67,660.50 L355.57,658.28 L358.47,655.94 L361.36,653.47 L364.26,650.87 L367.15,648.13 L370.05,645.26 L372.95,642.25 L375.84,639.10 L378.74,635.82 L381.63,632.40 L384.53,628.86 L387.43,625.19 L390.32,621.40 L393.22,617.49 L396.11,613.47 L399.01,609.36 L401.91,605.16 L404.80,600.88 L407.70,596.53 L410.59,592.13 L413.49,587.69 L416.39,583.22 L419.28,578.74 L422.18,574.26 L425.07,569.79 L427.97,565.34 L430.87,560.94 L433.76,556.60 L436.66,552.32 L439.56,548.12 L442.45,544.01 L445.35,539.99 L448.24,536.09 L451.14,532.29 L454.04,528.62 L456.93,525.08 L459.83,521.66 L462.72,518.38" stroke="#2ca9e1" stroke-width="2.75" fill="none" stroke-linejoin="round" stroke-linecap="round"/>
<path d="M115.20,692.09 L118.09,692.09 L120.99,692.09 L123.89,692.09 L126.78,692.08 L129.68,692.08 L132.57,692.08 L135.47,692.08 L138.37,692.08 L141.26,692.08 L144.16,692.07 L147.05,692.07 L149.95,692.07 L152.85,692.07 L155.74,692.07 L158.64,692.06 L161.53,692.06 L164.43,692.06 L167.33,692.05 L170.22,692.05 L173.12,692.04 L176.01,692.04 L178.91,692.03 L181.81,692.03 L184.70,692.02 L187.60,692.02 L190.49,692.01 L193.39,692.00 L196.29,692.00 L199.18,691.99 L202.08,691.98 L204.98,691.97 L207.87,691.96 L210.77,691.94 L213.66,691.93 L216.56,691.92 L219.46,691.90 L222.35,691.89 L225.25,691.87 L228.14,691.85 L231.04,691.83 L233.94,691.81 L236.83,691.78 L239.73,691.76 L242.62,691.73 L245.52,691.70 L248.42,691.67 L251.31,691.63 L254.21,691.59 L257.10,691.55 L260.00,691.50 L262.90,691.45 L265.79,691.40 L268.69,691.34 L271.58,691.28 L274.48,691.21 L277.38,691.14 L280.27,691.06 L283.17,690.98 L286.06,690.89 L288.96,690.79 L291.86,690.68 L294.75,690.56 L297.65,690.44 L300.54,690.30 L303.44,690.16 L306.34,690.00 L309.23,689.83 L312.13,689.64 L315.02,689.44 L317.92,689.22 L320.82,688.99 L323.71,688.74 L326.61,688.47 L329.51,688.17 L332.40,687.85 L335.30,687.51 L338.19,687.14 L341.09,686.74 L343.99,686.31 L346.88,685.85 L349.78,685.35 L352.67,684.81 L355.57,684.23 L358.47,683.61 L361.36,682.94 L364.26,682.22 L367.15,681.44 L370.05,680.61 L372.95,679.71 L375.84,678.75 L378.74,677.72 L381.63,676.62 L384.53,675.44 L387.43,674.17 L390.32,672.82 L393.22,671.38 L396.11,669.84 L399.01,668.20 L401.91,666.46 L404.80,664.60 L407.70,662.63 L410.59,660.54 L413.49,658.33 L416.39,655.99 L419.28,653.52 L422.18,650.92 L425.07,648.18 L427.97,645.31 L430.87,642.31 L433.76,639.16 L436.66,635.88 L439.56,632.47 L442.45,628.93 L445.35,625.26 L448.24,621.47 L451.14,617.57 L454.04,613.55 L456.93,609.44 L459.83,605.24 L462.72,600.96" stroke="#5b2673" stroke-width="2.75" fill="none" stroke-linejoin="round" stroke-linecap="round"/>
<path d="M115.20,692.09 L118.09,692.09 L120.99,692.09 L123.89,692.09 L126.78,692.09 L129.68,692.09 L132.57,692.09 L135.47,692.09 L138.37,692.09 L141.26,692.08 L144.16,692.08 L147.05,692.08 L149.95,692.08 L152.85,692.08 L155.74,692.08 L158.64,692.08 L161.53,692.07 L164.43,692.07 L167.33,692.07 L170.22,692.07 L173.12,692.06 L176.01,692.06 L178.91,692.06 L181.81,692.05 L184.70,692.05 L187.60,692.05 L190.49,692.04 L193.39,692.04 L196.29,692.03 L199.18,692.03 L202.08,692.02 L204.98,692.01 L207.87,692.01 L210.77,692.00 L213.66,691.99 L216.56,691.98 L219.46,691.97 L222.35,691.96 L225.25,691.95 L228.14,691.94 L231.04,691.92 L233.94,691.91 L236.83,691.89 L239.73,691.88 L242.62,691.86 L245.52,691.84 L248.42,691.82 L251.31,691.80 L254.21,691.77 L257.10,691.74 L260.00,691.71 L262.90,691.68 L265.79,691.65 L268.69,691.61 L271.58,691.57 L274.48,691.53 L277.38,691.48 L280.27,691.43 L283.17,691.37 L286.06,691.31 L288.96,691.25 L291.86,691.18 L294.75,691.10 L297.65,691.02 L300.54,690.93 L303.44,690.84 L306.34,690.74 L309.23,690.62 L312.13,690.50 L315.02,690.37 L317.92,690.23 L320.82,690.08 L323.71,689.91 L326.61,689.74 L329.51,689.54 L332.40,689.34 L335.30,689.11 L338.19,688.87 L341.09,688.61 L343.99,688.32 L346.88,688.02 L349.78,687.69 L352.67,687.33 L355.57,686.95 L358.47,686.54 L361.36,686.09 L364.26,685.61 L367.15,685.09 L370.05,684.53 L372.95,683.93 L375.84,683.28 L378.74,682.59 L381.63,681.84 L384.53,681.04 L387.43,680.17 L390.32,679.25 L393.22,678.25 L396.11,677.19 L399.01,676.05 L401.91,674.82 L404.80,673.52 L407.70,672.12 L410.59,670.63 L413.49,669.04 L416.39,667.35 L419.28,665.55 L422.18,663.64 L425.07,661.61 L427.97,659.46 L430.87,657.19 L433.76,654.79 L436.66,652.25 L439.56,649.59 L442.45,646.78 L445.35,643.85 L448.24,640.77 L451.14,637.56 L454.04,634.22 L456.93,630.74 L459.83,627.13 L462.72,623.40" stroke="#b4692c" stroke-width="2.75" fill="none" stroke-linejoin="round" stroke-linecap="round"/>
<path d="M115.20,692.09 L118.09,692.09 L120.99,692.09 L123.89,692.09 L126.78,692.09 L129.68,692.09 L132.57,692.09 L135.47,692.09 L138.37,692.09 L141.26,692.09 L144.16,692.08 L147.05,692.08 L149.95,692.08 L152.85,692.08 L155.74,692.08 L158.64,692.08 L161.53,692.07 L164.43,692.07 L167.33,692.07 L170.22,692.07 L173.12,692.07 L176.01,692.06 L178.91,692.06 L181.81,692.06 L184.70,692.05 L187.60,692.05 L190.49,692.04 L193.39,692.04 L196.29,692.04 L199.18,692.03 L202.08,692.02 L204.98,692.02 L207.87,692.01 L210.77,692.00 L213.66,692.00 L216.56,691.99 L219.46,691.98 L222.35,691.97 L225.25,691.96 L228.14,691.95 L231.04,691.93 L233.94,691.92 L236.83,691.90 L239.73,691.89 L242.62,691.87 L245.52,691.85 L248.42,691.83 L251.31,691.81 L254.21,691.79 L257.10,691.76 L260.00,691.73 L262.90,691.70 L265.79,691.67 L268.69,691.63 L271.58,691.59 L274.48,691.55 L277.38,691.51 L280.27,691.46 L283.17,691.41 L286.06,691.35 L288.96,691.29 L291.86,691.22 L294.75,691.15 L297.65,691.07 L300.54,690.99 L303.44,690.90 L306.34,690.80 L309.23,690.69 L312.13,690.58 L315.02,690.45 L317.92,690.32 L320.82,690.17 L323.71,690.02 L326.61,689.85 L329.51,689.66 L332.40,689.46 L335.30,689.25 L338.19,689.02 L341.09,688.77 L343.99,688.50 L346.88,688.21 L349.78,687.89 L352.67,687.55 L355.57,687.18 L358.47,686.79 L361.36,686.36 L364.26,685.90 L367.15,685.41 L370.05,684.87 L372.95,684.30 L375.84,683.68 L378.74,683.01 L381.63,682.30 L384.53,681.53 L387.43,680.70 L390.32,679.81 L393.22,678.86 L396.11,677.84 L399.01,676.74 L401.91,675.57 L404.80,674.32 L407.70,672.98 L410.59,671.54 L413.49,670.01 L416.39,668.39 L419.28,666.65 L422.18,664.81 L425.07,662.85 L427.97,660.77 L430.87,658.58 L433.76,656.25 L436.66,653.80 L439.56,651.21 L442.45,648.49 L445.35,645.64 L448.24,642.64 L451.14,639.51 L454.04,636.25 L456.93,632.85 L459.83,629.32 L462.72,625.67" stroke="#3bb44a" stroke-width="2.75" fill="none" stroke-linejoin="round" stroke-linecap="round"/>
<path d="M115.20,692.10 L118.09,692.10 L120.99,692.10 L123.89,692.10 L126.78,692.09 L129.68,692.09 L132.57,692.09 L135.47,692.09 L138.37,692.09 L141.26,692.09 L144.16,692.09 L147.05,692.09 L149.95,692.09 L152.85,692.09 L155.74,692.09 L158.64,692.09 L161.53,692.09 L164.43,692.09 L167.33,692.08 L170.22,692.08 L173.12,692.08 L176.01,692.08 L178.91,692.08 L181.81,692.08 L184.70,692.07 L187.60,692.07 L190.49,692.07 L193.39,692.07 L196.29,692.07 L199.18,692.06 L202.08,692.06 L204.98,692.06 L207.87,692.05 L210.77,692.05 L213.66,692.04 L216.56,692.04 L219.46,692.04 L222.35,692.03 L225.25,692.02 L228.14,692.02 L231.04,692.01 L233.94,692.00 L236.83,692.00 L239.73,691.99 L242.62,691.98 L245.52,691.97 L248.42,691.96 L251.31,691.95 L254.21,691.93 L257.10,691.92 L260.00,691.90 L262.90,691.89 L265.79,691.87 L268.69,691.85 L271.58,691.83 L274.48,691.81 L277.38,691.78 L280.27,691.76 L283.17,691.73 L286.06,691.70 L288.96,691.67 L291.86,691.63 L294.75,691.59 L297.65,691.55 L300.54,691.51 L303.44,691.46 L306.34,691.40 L309.23,691.35 L312.13,691.29 L315.02,691.22 L317.92,691.15 L320.82,691.07 L323.71,690.98 L326.61,690.89 L329.51,690.79 L332.40,690.69 L335.30,690.57 L338.19,690.45 L341.09,690.31 L343.99,690.16 L346.88,690.01 L349.78,689.84 L352.67,689.65 L355.57,689.45 L358.47,689.24 L361.36,689.00 L364.26,688.75 L367.15,688.48 L370.05,688.19 L372.95,687.87 L375.84,687.53 L378.74,687.16 L381.63,686.77 L384.53,686.34 L387.43,685.88 L390.32,685.38 L393.22,684.84 L396.11,684.27 L399.01,683.65 L401.91,682.98 L404.80,682.26 L407.70,681.49 L410.59,680.66 L413.49,679.76 L416.39,678.81 L419.28,677.78 L422.18,676.68 L425.07,675.51 L427.97,674.25 L430.87,672.90 L433.76,671.46 L436.66,669.93 L439.56,668.30 L442.45,666.56 L445.35,664.71 L448.24,662.74 L451.14,660.66 L454.04,658.45 L456.93,656.12 L459.83,653.66 L462.72,651.07" stroke="#c8102e" stroke-width="2.75" fill="none" stroke-linejoin="round" stroke-linecap="round"/>
<path d="M115.20,692.10 L118.09,692.10 L120.99,692.10 L123.89,692.10 L126.78,692.10 L129.68,692.10 L132.57,692.10 L135.47,692.10 L138.37,692.09 L141.26,692.09 L144.16,692.09 L147.05,692.09 L149.95,692.09 L152.85,692.09 L155.74,692.09 L158.64,692.09 L161.53,692.09 L164.43,692.09 L167.33,692.09 L170.22,692.09 L173.12,692.09 L176.01,692.09 L178.91,692.08 L181.81,692.08 L184.70,692.08 L187.60,692.08 L190.49,692.08 L193.39,692.08 L196.29,692.07 L199.18,692.07 L202.08,692.07 L204.98,692.07 L207.87,692.06 L210.77,692.06 L213.66,692.06 L216.56,692.06 L219.46,692.05 L222.35,692.05 L225.25,692.04 L228.14,692.04 L231.04,692.03 L233.94,692.03 L236.83,692.02 L239.73,692.02 L242.62,692.01 L245.52,692.00 L248.42,691.99 L251.31,691.99 L254.21,691.98 L257.10,691.97 L260.00,691.95 L262.90,691.94 L265.79,691.93 L268.69,691.92 L271.58,691.90 L274.48,691.88 L277.38,691.87 L280.27,691.85 L283.17,691.83 L286.06,691.80 L288.96,691.78 L291.86,691.75 L294.75,691.72 L297.65,691.69 L300.54,691.66 L303.44,691.62 L306.34,691.58 L309.23,691.54 L312.13,691.50 L315.02,691.45 L317.92,691.39 L320.82,691.33 L323.71,691.27 L326.61,691.20 L329.51,691.13 L332.40,691.05 L335.30,690.96 L338.19,690.87 L341.09,690.77 L343.99,690.66 L346.88,690.54 L349.78,690.42 L352.67,690.28 L355.57,690.13 L358.47,689.97 L361.36,689.80 L364.26,689.61 L367.15,689.40 L370.05,689.19 L372.95,688.95 L375.84,688.69 L378.74,688.42 L381.63,688.12 L384.53,687.80 L387.43,687.45 L390.32,687.08 L393.22,686.67 L396.11,686.24 L399.01,685.77 L401.91,685.26 L404.80,684.72 L407.70,684.13 L410.59,683.50 L413.49,682.82 L416.39,682.09 L419.28,681.30 L422.18,680.46 L425.07,679.55 L427.97,678.58 L430.87,677.54 L433.76,676.42 L436.66,675.23 L439.56,673.95 L442.45,672.58 L445.35,671.12 L448.24,669.57 L451.14,667.91 L454.04,666.15 L456.93,664.27 L459.83,662.28 L462.72,660.17" stroke="#1b5691" stroke-width="2.75" fill="none" stroke-linejoin="round" stroke-linecap="round"/>
<path d="M115.20,692.10 L118.09,692.10 L120.99,692.10 L123.89,692.10 L126.78,692.10 L129.68,692.10 L132.57,692.10 L135.47,692.10 L138.37,692.10 L141.26,692.10 L144.16,692.10 L147.05,692.10 L149.95,692.10 L152.85,692.10 L155.74,692.10 L158.64,692.09 L161.53,692.09 L164.43,692.09 L167.33,692.09 L170.22,692.09 L173.12,692.09 L176.01,692.09 L178.91,692.09 L181.81,692.09 L184.70,692.09 L187.60,692.09 L190.49,692.09 L193.39,692.09 L196.29,692.09 L199.18,692.08 L202.08,692.08 L204.98,692.08 L207.87,692.08 L210.77,692.08 L213.66,692.08 L216.56,692.08 L219.46,692.07 L222.35,692.07 L225.25,692.07 L228.14,692.07 L231.04,692.06 L233.94,692.06 L236.83,692.06 L239.73,692.05 L242.62,692.05 L245.52,692.05 L248.42,692.04 L251.31,692.04 L254.21,692.03 L257.10,692.03 L260.00,692.02 L262.90,692.01 L265.79,692.01 L268.69,692.00 L271.58,691.99 L274.48,691.98 L277.38,691.97 L280.27,691.96 L283.17,691.95 L286.06,691.94 L288.96,691.92 L291.86,691.91 L294.75,691.89 L297.65,691.87 L300.54,691.86 L303.44,691.84 L306.34,691.81 L309.23,691.79 L312.13,691.77 L315.02,691.74 L317.92,691.71 L320.82,691.68 L323.71,691.64 L326.61,691.60 L329.51,691.56 L332.40,691.52 L335.30,691.47 L338.19,691.42 L341.09,691.36 L343.99,691.30 L346.88,691.24 L349.78,691.17 L352.67,691.09 L355.57,691.01 L358.47,690.92 L361.36,690.82 L364.26,690.72 L367.15,690.60 L370.05,690.48 L372.95,690.35 L375.84,690.21 L378.74,690.05 L381.63,689.89 L384.53,689.70 L387.43,689.51 L390.32,689.30 L393.22,689.07 L396.11,688.83 L399.01,688.56 L401.91,688.27 L404.80,687.96 L407.70,687.63 L410.59,687.27 L413.49,686.88 L416.39,686.46 L419.28,686.01 L422.18,685.52 L425.07,685.00 L427.97,684.43 L430.87,683.82 L433.76,683.17 L436.66,682.46 L439.56,681.71 L442.45,680.89 L445.35,680.02 L448.24,679.08 L451.14,678.08 L454.04,677.00 L456.93,675.84 L459.83,674.61 L462.72,673.29" stroke="#fbb81f" stroke-width="2.75" fill="none" stroke-linejoin="round" stroke-linecap="round"/>
<circle cx="149.10" cy="681.67" r="3.7" fill="#465265"/>
<circle cx="189.30" cy="672.15" r="3.7" fill="#465265"/>
<circle cx="229.50" cy="649.03" r="3.7" fill="#465265"/>
<circle cx="269.70" cy="600.74" r="3.7" fill="#465265"/>
<circle cx="309.90" cy="541.57" r="3.7" fill="#465265"/>
<circle cx="350.10" cy="495.78" r="3.7" fill="#465265"/>
<circle cx="390.30" cy="479.00" r="3.7" fill="#465265"/>
<circle cx="430.50" cy="467.89" r="3.7" fill="#465265"/>
<circle cx="138.40" cy="687.57" r="3.7" fill="#f7901e"/>
<circle cx="178.60" cy="682.13" r="3.7" fill="#f7901e"/>
<circle cx="218.80" cy="672.60" r="3.7" fill="#f7901e"/>
<circle cx="259.00" cy="649.48" r="3.7" fill="#f7901e"/>
<circle cx="299.20" cy="604.37" r="3.7" fill="#f7901e"/>
<circle cx="339.40" cy="547.69" r="3.7" fill="#f7901e"/>
<circle cx="379.60" cy="495.10" r="3.7" fill="#f7901e"/>
<circle cx="419.80" cy="469.93" r="3.7" fill="#f7901e"/>
<circle cx="138.40" cy="689.38" r="3.7" fill="#0c6a55"/>
<circle cx="178.60" cy="685.53" r="3.7" fill="#0c6a55"/>
<circle cx="218.80" cy="677.59" r="3.7" fill="#0c6a55"/>
<circle cx="259.00" cy="662.63" r="3.7" fill="#0c6a55"/>
<circle cx="299.20" cy="635.20" r="3.7" fill="#0c6a55"/>
<circle cx="339.40" cy="591.22" r="3.7" fill="#0c6a55"/>
<circle cx="379.60" cy="545.20" r="3.7" fill="#0c6a55"/>
<circle cx="419.80" cy="508.47" r="3.7" fill="#0c6a55"/>
<circle cx="138.40" cy="690.29" r="3.7" fill="#e6138b"/>
<circle cx="178.60" cy="687.57" r="3.7" fill="#e6138b"/>
<circle cx="218.80" cy="683.03" r="3.7" fill="#e6138b"/>
<circle cx="259.00" cy="673.51" r="3.7" fill="#e6138b"/>
<circle cx="299.20" cy="649.25" r="3.7" fill="#e6138b"/>
<circle cx="339.40" cy="614.80" r="3.7" fill="#e6138b"/>
<circle cx="379.60" cy="584.87" r="3.7" fill="#e6138b"/>
<circle cx="419.80" cy="549.96" r="3.7" fill="#e6138b"/>
<circle cx="138.40" cy="691.19" r="3.7" fill="#2ca9e1"/>
<circle cx="178.60" cy="689.83" r="3.7" fill="#2ca9e1"/>
<circle cx="218.80" cy="687.11" r="3.7" fill="#2ca9e1"/>
<circle cx="259.00" cy="681.45" r="3.7" fill="#2ca9e1"/>
<circle cx="299.20" cy="671.02" r="3.7" fill="#2ca9e1"/>
<circle cx="339.40" cy="652.65" r="3.7" fill="#2ca9e1"/>
<circle cx="379.60" cy="623.18" r="3.7" fill="#2ca9e1"/>
<circle cx="419.80" cy="592.13" r="3.7" fill="#2ca9e1"/>
<circle cx="138.40" cy="692.10" r="3.7" fill="#5b2673"/>
<circle cx="178.60" cy="692.10" r="3.7" fill="#5b2673"/>
<circle cx="218.80" cy="691.65" r="3.7" fill="#5b2673"/>
<circle cx="259.00" cy="691.19" r="3.7" fill="#5b2673"/>
<circle cx="299.20" cy="689.83" r="3.7" fill="#5b2673"/>
<circle cx="339.40" cy="685.30" r="3.7" fill="#5b2673"/>
<circle cx="379.60" cy="675.10" r="3.7" fill="#5b2673"/>
<circle cx="419.80" cy="653.11" r="3.7" fill="#5b2673"/>
<circle cx="138.40" cy="691.42" r="3.7" fill="#3bb44a"/>
<circle cx="178.60" cy="691.42" r="3.7" fill="#3bb44a"/>
<circle cx="218.80" cy="691.19" r="3.7" fill="#3bb44a"/>
<circle cx="259.00" cy="690.97" r="3.7" fill="#3bb44a"/>
<circle cx="299.20" cy="689.83" r="3.7" fill="#3bb44a"/>
<circle cx="339.40" cy="687.57" r="3.7" fill="#3bb44a"/>
<circle cx="379.60" cy="680.76" r="3.7" fill="#3bb44a"/>
<circle cx="419.80" cy="666.03" r="3.7" fill="#3bb44a"/>
<circle cx="138.40" cy="692.10" r="3.7" fill="#b4692c"/>
<circle cx="178.60" cy="691.19" r="3.7" fill="#b4692c"/>
<circle cx="218.80" cy="690.51" r="3.7" fill="#b4692c"/>
<circle cx="259.00" cy="690.51" r="3.7" fill="#b4692c"/>
<circle cx="299.20" cy="690.06" r="3.7" fill="#b4692c"/>
<circle cx="339.40" cy="685.98" r="3.7" fill="#b4692c"/>
<circle cx="379.60" cy="679.86" r="3.7" fill="#b4692c"/>
<circle cx="419.80" cy="666.03" r="3.7" fill="#b4692c"/>
<circle cx="149.10" cy="692.10" r="3.7" fill="#c8102e"/>
<circle cx="189.30" cy="692.10" r="3.7" fill="#c8102e"/>
<circle cx="229.50" cy="692.10" r="3.7" fill="#c8102e"/>
<circle cx="269.70" cy="692.10" r="3.7" fill="#c8102e"/>
<circle cx="309.90" cy="690.97" r="3.7" fill="#c8102e"/>
<circle cx="350.10" cy="689.83" r="3.7" fill="#c8102e"/>
<circle cx="390.30" cy="685.30" r="3.7" fill="#c8102e"/>
<circle cx="430.50" cy="671.92" r="3.7" fill="#c8102e"/>
<circle cx="149.10" cy="692.10" r="3.7" fill="#1b5691"/>
<circle cx="189.30" cy="692.10" r="3.7" fill="#1b5691"/>
<circle cx="229.50" cy="692.10" r="3.7" fill="#1b5691"/>
<circle cx="269.70" cy="692.10" r="3.7" fill="#1b5691"/>
<circle cx="309.90" cy="690.97" r="3.7" fill="#1b5691"/>
<circle cx="350.10" cy="688.02" r="3.7" fill="#1b5691"/>
<circle cx="390.30" cy="684.62" r="3.7" fill="#1b5691"/>
<circle cx="430.50" cy="677.14" r="3.7" fill="#1b5691"/>
<circle cx="149.10" cy="692.10" r="3.7" fill="#fbb81f"/>
<circle cx="189.30" cy="692.10" r="3.7" fill="#fbb81f"/>
<circle cx="229.50" cy="692.10" r="3.7" fill="#fbb81f"/>
<circle cx="269.70" cy="692.10" r="3.7" fill="#fbb81f"/>
<circle cx="309.90" cy="691.42" r="3.7" fill="#fbb81f"/>
<circle cx="350.10" cy="690.29" r="3.7" fill="#fbb81f"/>
<circle cx="390.30" cy="689.15" r="3.7" fill="#fbb81f"/>
<circle cx="430.50" cy="683.71" r="3.7" fill="#fbb81f"/>
<text x="12.9" y="790.6" font-family="Liberation Sans, sans-serif" font-weight="bold" font-size="25" fill="#000">C</text>
<text transform="translate(30.3,996.6) rotate(-90)" x="0" y="0" font-family="Liberation Sans, sans-serif" font-size="19" textLength="137.7" lengthAdjust="spacingAndGlyphs" fill="#000">Normalized binding</text>
<line x1="75.25" y1="790.3" x2="75.25" y2="1061.7" stroke="#000" stroke-width="2.1"/>
<line x1="68.7" y1="1060.7" x2="505" y2="1060.7" stroke="#000" stroke-width="2.1"/>
<line x1="68.7" y1="1060.70" x2="75" y2="1060.70" stroke="#000" stroke-width="2"/>
<text x="64.6" y="1066.10" font-family="Liberation Sans, sans-serif" font-size="15.8" text-anchor="end" fill="#000">0.0</text>
<line x1="68.7" y1="1017.02" x2="75" y2="1017.02" stroke="#000" stroke-width="2"/>
<text x="64.6" y="1022.42" font-family="Liberation Sans, sans-serif" font-size="15.8" text-anchor="end" fill="#000">0.2</text>
<line x1="68.7" y1="973.34" x2="75" y2="973.34" stroke="#000" stroke-width="2"/>
<text x="64.6" y="978.74" font-family="Liberation Sans, sans-serif" font-size="15.8" text-anchor="end" fill="#000">0.4</text>
<line x1="68.7" y1="929.66" x2="75" y2="929.66" stroke="#000" stroke-width="2"/>
<text x="64.6" y="935.06" font-family="Liberation Sans, sans-serif" font-size="15.8" text-anchor="end" fill="#000">0.6</text>
<line x1="68.7" y1="885.98" x2="75" y2="885.98" stroke="#000" stroke-width="2"/>
<text x="64.6" y="891.38" font-family="Liberation Sans, sans-serif" font-size="15.8" text-anchor="end" fill="#000">0.8</text>
<line x1="68.7" y1="842.30" x2="75" y2="842.30" stroke="#000" stroke-width="2"/>
<text x="64.6" y="847.70" font-family="Liberation Sans, sans-serif" font-size="15.8" text-anchor="end" fill="#000">1.0</text>
<line x1="68.7" y1="798.62" x2="75" y2="798.62" stroke="#000" stroke-width="2"/>
<text x="64.6" y="804.02" font-family="Liberation Sans, sans-serif" font-size="15.8" text-anchor="end" fill="#000">1.2</text>
<line x1="75.00" y1="1060.7" x2="75.00" y2="1067.70" stroke="#000" stroke-width="2"/>
<text x="75.00" y="1085.10" font-family="Liberation Sans, sans-serif" font-size="15.8" text-anchor="middle" fill="#000">0.0001</text>
<line x1="100.36" y1="1060.7" x2="100.36" y2="1065.90" stroke="#000" stroke-width="1.9"/>
<line x1="115.20" y1="1060.7" x2="115.20" y2="1065.90" stroke="#000" stroke-width="1.9"/>
<line x1="125.72" y1="1060.7" x2="125.72" y2="1065.90" stroke="#000" stroke-width="1.9"/>
<line x1="133.89" y1="1060.7" x2="133.89" y2="1065.90" stroke="#000" stroke-width="1.9"/>
<line x1="140.56" y1="1060.7" x2="140.56" y2="1065.90" stroke="#000" stroke-width="1.9"/>
<line x1="146.20" y1="1060.7" x2="146.20" y2="1065.90" stroke="#000" stroke-width="1.9"/>
<line x1="151.09" y1="1060.7" x2="151.09" y2="1065.90" stroke="#000" stroke-width="1.9"/>
<line x1="155.39" y1="1060.7" x2="155.39" y2="1065.90" stroke="#000" stroke-width="1.9"/>
<line x1="159.25" y1="1060.7" x2="159.25" y2="1067.70" stroke="#000" stroke-width="2"/>
<text x="159.25" y="1085.10" font-family="Liberation Sans, sans-serif" font-size="15.8" text-anchor="middle" fill="#000">0.001</text>
<line x1="184.61" y1="1060.7" x2="184.61" y2="1065.90" stroke="#000" stroke-width="1.9"/>
<line x1="199.45" y1="1060.7" x2="199.45" y2="1065.90" stroke="#000" stroke-width="1.9"/>
<line x1="209.97" y1="1060.7" x2="209.97" y2="1065.90" stroke="#000" stroke-width="1.9"/>
<line x1="218.14" y1="1060.7" x2="218.14" y2="1065.90" stroke="#000" stroke-width="1.9"/>
<line x1="224.81" y1="1060.7" x2="224.81" y2="1065.90" stroke="#000" stroke-width="1.9"/>
<line x1="230.45" y1="1060.7" x2="230.45" y2="1065.90" stroke="#000" stroke-width="1.9"/>
<line x1="235.34" y1="1060.7" x2="235.34" y2="1065.90" stroke="#000" stroke-width="1.9"/>
<line x1="239.64" y1="1060.7" x2="239.64" y2="1065.90" stroke="#000" stroke-width="1.9"/>
<line x1="243.50" y1="1060.7" x2="243.50" y2="1067.70" stroke="#000" stroke-width="2"/>
<text x="243.50" y="1085.10" font-family="Liberation Sans, sans-serif" font-size="15.8" text-anchor="middle" fill="#000">0.01</text>
<line x1="268.86" y1="1060.7" x2="268.86" y2="1065.90" stroke="#000" stroke-width="1.9"/>
<line x1="283.70" y1="1060.7" x2="283.70" y2="1065.90" stroke="#000" stroke-width="1.9"/>
<line x1="294.22" y1="1060.7" x2="294.22" y2="1065.90" stroke="#000" stroke-width="1.9"/>
<line x1="302.39" y1="1060.7" x2="302.39" y2="1065.90" stroke="#000" stroke-width="1.9"/>
<line x1="309.06" y1="1060.7" x2="309.06" y2="1065.90" stroke="#000" stroke-width="1.9"/>
<line x1="314.70" y1="1060.7" x2="314.70" y2="1065.90" stroke="#000" stroke-width="1.9"/>
<line x1="319.59" y1="1060.7" x2="319.59" y2="1065.90" stroke="#000" stroke-width="1.9"/>
<line x1="323.89" y1="1060.7" x2="323.89" y2="1065.90" stroke="#000" stroke-width="1.9"/>
<line x1="327.75" y1="1060.7" x2="327.75" y2="1067.70" stroke="#000" stroke-width="2"/>
<text x="327.75" y="1085.10" font-family="Liberation Sans, sans-serif" font-size="15.8" text-anchor="middle" fill="#000">0.1</text>
<line x1="353.11" y1="1060.7" x2="353.11" y2="1065.90" stroke="#000" stroke-width="1.9"/>
<line x1="367.95" y1="1060.7" x2="367.95" y2="1065.90" stroke="#000" stroke-width="1.9"/>
<line x1="378.47" y1="1060.7" x2="378.47" y2="1065.90" stroke="#000" stroke-width="1.9"/>
<line x1="386.64" y1="1060.7" x2="386.64" y2="1065.90" stroke="#000" stroke-width="1.9"/>
<line x1="393.31" y1="1060.7" x2="393.31" y2="1065.90" stroke="#000" stroke-width="1.9"/>
<line x1="398.95" y1="1060.7" x2="398.95" y2="1065.90" stroke="#000" stroke-width="1.9"/>
<line x1="403.84" y1="1060.7" x2="403.84" y2="1065.90" stroke="#000" stroke-width="1.9"/>
<line x1="408.14" y1="1060.7" x2="408.14" y2="1065.90" stroke="#000" stroke-width="1.9"/>
<line x1="412.00" y1="1060.7" x2="412.00" y2="1067.70" stroke="#000" stroke-width="2"/>
<text x="412.00" y="1085.10" font-family="Liberation Sans, sans-serif" font-size="15.8" text-anchor="middle" fill="#000">1</text>
<line x1="437.36" y1="1060.7" x2="437.36" y2="1065.90" stroke="#000" stroke-width="1.9"/>
<line x1="452.20" y1="1060.7" x2="452.20" y2="1065.90" stroke="#000" stroke-width="1.9"/>
<line x1="462.72" y1="1060.7" x2="462.72" y2="1065.90" stroke="#000" stroke-width="1.9"/>
<line x1="470.89" y1="1060.7" x2="470.89" y2="1065.90" stroke="#000" stroke-width="1.9"/>
<line x1="477.56" y1="1060.7" x2="477.56" y2="1065.90" stroke="#000" stroke-width="1.9"/>
<line x1="483.20" y1="1060.7" x2="483.20" y2="1065.90" stroke="#000" stroke-width="1.9"/>
<line x1="488.09" y1="1060.7" x2="488.09" y2="1065.90" stroke="#000" stroke-width="1.9"/>
<line x1="492.39" y1="1060.7" x2="492.39" y2="1065.90" stroke="#000" stroke-width="1.9"/>
<line x1="496.25" y1="1060.7" x2="496.25" y2="1067.70" stroke="#000" stroke-width="2"/>
<text x="496.25" y="1085.10" font-family="Liberation Sans, sans-serif" font-size="15.8" text-anchor="middle" fill="#000">10</text>
<text x="245.6" y="1114.00" font-family="Liberation Sans, sans-serif" font-size="18.8" textLength="41.8" lengthAdjust="spacingAndGlyphs" fill="#000">[GPVI]</text>
<text x="290.1" y="1114.00" font-family="Liberation Sans, sans-serif" font-size="18.8" textLength="38.0" lengthAdjust="spacingAndGlyphs" fill="#000">(µM)</text>
<text x="242.0" y="799.8" font-family="Liberation Sans, sans-serif" font-size="19.6" textLength="46.0" lengthAdjust="spacingAndGlyphs" fill="#000">III-30</text>
<line x1="242" y1="802" x2="287" y2="802" stroke="#333" stroke-width="1.4"/>
<circle cx="94.6" cy="798.50" r="3.6" fill="#465265"/>
<text x="104.5" y="803.00" font-family="Liberation Sans, sans-serif" font-size="15.4" fill="#000">WT</text>
<circle cx="94.6" cy="814.42" r="3.6" fill="#0c6a55"/>
<text x="104.5" y="818.92" font-family="Liberation Sans, sans-serif" font-size="15.4" fill="#000">L36A</text>
<circle cx="94.6" cy="830.34" r="3.6" fill="#f7901e"/>
<text x="104.5" y="834.84" font-family="Liberation Sans, sans-serif" font-size="15.4" fill="#000" textLength="41.9" lengthAdjust="spacingAndGlyphs">Q71A</text>
<circle cx="94.6" cy="846.26" r="3.6" fill="#e6138b"/>
<text x="104.5" y="850.76" font-family="Liberation Sans, sans-serif" font-size="15.4" fill="#000" textLength="41.9" lengthAdjust="spacingAndGlyphs">Q82A</text>
<circle cx="94.6" cy="862.18" r="3.6" fill="#3bb44a"/>
<text x="104.5" y="866.68" font-family="Liberation Sans, sans-serif" font-size="15.4" fill="#000">R67A</text>
<circle cx="94.6" cy="878.10" r="3.6" fill="#b4692c"/>
<text x="104.5" y="882.60" font-family="Liberation Sans, sans-serif" font-size="15.4" fill="#000">D49A</text>
<circle cx="94.6" cy="894.02" r="3.6" fill="#2ca9e1"/>
<text x="104.5" y="898.52" font-family="Liberation Sans, sans-serif" font-size="15.4" fill="#000" textLength="36.7" lengthAdjust="spacingAndGlyphs">S69A</text>
<circle cx="94.6" cy="909.94" r="3.6" fill="#5b2673"/>
<text x="104.5" y="914.44" font-family="Liberation Sans, sans-serif" font-size="15.4" fill="#000">Y47A</text>
<circle cx="94.6" cy="925.86" r="3.6" fill="#fbb81f"/>
<text x="104.5" y="930.36" font-family="Liberation Sans, sans-serif" font-size="15.4" fill="#000">W76A</text>
<circle cx="94.6" cy="941.78" r="3.6" fill="#c8102e"/>
<text x="104.5" y="946.28" font-family="Liberation Sans, sans-serif" font-size="15.4" fill="#000">R38A</text>
<circle cx="94.6" cy="957.70" r="3.6" fill="#1b5691"/>
<text x="104.5" y="962.20" font-family="Liberation Sans, sans-serif" font-size="15.4" fill="#000">E40A</text>
<path d="M146.90,1023.57H153.50M150.20,1023.57V1036.68M146.90,1036.68H153.50" stroke="#000" stroke-width="1.5" fill="none"/>
<path d="M187.10,991.69H193.70M190.40,991.69V1023.14M187.10,1023.14H193.70" stroke="#000" stroke-width="1.5" fill="none"/>
<path d="M227.30,956.74H233.90M230.60,956.74V993.43M227.30,993.43H233.90" stroke="#000" stroke-width="1.5" fill="none"/>
<path d="M267.50,905.42H274.10M270.80,905.42V949.10M267.50,949.10H274.10" stroke="#000" stroke-width="1.5" fill="none"/>
<path d="M307.70,866.11H314.30M311.00,866.11V901.05M307.70,901.05H314.30" stroke="#000" stroke-width="1.5" fill="none"/>
<path d="M347.90,841.64H354.50M351.20,841.64V871.35M347.90,871.35H354.50" stroke="#000" stroke-width="1.5" fill="none"/>
<path d="M388.10,836.40H394.70M391.40,836.40V852.56M388.10,852.56H394.70" stroke="#000" stroke-width="1.5" fill="none"/>
<path d="M428.30,822.21H434.90M431.60,822.21V848.42M428.30,848.42H434.90" stroke="#000" stroke-width="1.5" fill="none"/>
<path d="M146.90,1019.20H153.50M150.20,1019.20V1036.68M146.90,1036.68H153.50" stroke="#000" stroke-width="1.5" fill="none"/>
<path d="M187.10,990.59H193.70M190.40,990.59V1005.01M187.10,1005.01H193.70" stroke="#000" stroke-width="1.5" fill="none"/>
<path d="M227.30,927.69H233.90M230.60,927.69V970.50M227.30,970.50H233.90" stroke="#000" stroke-width="1.5" fill="none"/>
<path d="M267.50,878.77H274.10M270.80,878.77V914.59M267.50,914.59H274.10" stroke="#000" stroke-width="1.5" fill="none"/>
<path d="M307.70,834.00H314.30M311.00,834.00V865.01M307.70,865.01H314.30" stroke="#000" stroke-width="1.5" fill="none"/>
<path d="M347.90,822.43H354.50M351.20,822.43V843.39M347.90,843.39H354.50" stroke="#000" stroke-width="1.5" fill="none"/>
<path d="M388.10,818.06H394.70M391.40,818.06V851.25M388.10,851.25H394.70" stroke="#000" stroke-width="1.5" fill="none"/>
<path d="M428.30,789.45H434.90M431.60,789.45V830.07M428.30,830.07H434.90" stroke="#000" stroke-width="1.5" fill="none"/>
<path d="M146.90,1018.11H153.50M150.20,1018.11V1036.46M146.90,1036.46H153.50" stroke="#000" stroke-width="1.5" fill="none"/>
<path d="M187.10,996.27H193.70M190.40,996.27V1009.38M187.10,1009.38H193.70" stroke="#000" stroke-width="1.5" fill="none"/>
<path d="M227.30,954.78H233.90M230.60,954.78V972.25M227.30,972.25H233.90" stroke="#000" stroke-width="1.5" fill="none"/>
<path d="M267.50,890.57H274.10M270.80,890.57V912.41M267.50,912.41H274.10" stroke="#000" stroke-width="1.5" fill="none"/>
<path d="M307.70,841.86H314.30M311.00,841.86V862.39M307.70,862.39H314.30" stroke="#000" stroke-width="1.5" fill="none"/>
<path d="M347.90,816.09H354.50M351.20,816.09V839.24M347.90,839.24H354.50" stroke="#000" stroke-width="1.5" fill="none"/>
<path d="M388.10,808.88H394.70M391.40,808.88V860.43M388.10,860.43H394.70" stroke="#000" stroke-width="1.5" fill="none"/>
<path d="M428.30,804.95H434.90M431.60,804.95V825.48M428.30,825.48H434.90" stroke="#000" stroke-width="1.5" fill="none"/>
<path d="M227.30,1053.49H233.90M230.60,1053.49V1055.68M227.30,1055.68H233.90" stroke="#000" stroke-width="1.5" fill="none"/>
<path d="M267.50,1043.88H274.10M270.80,1043.88V1048.25M267.50,1048.25H274.10" stroke="#000" stroke-width="1.5" fill="none"/>
<path d="M307.70,1017.46H314.30M311.00,1017.46V1029.25M307.70,1029.25H314.30" stroke="#000" stroke-width="1.5" fill="none"/>
<path d="M347.90,961.33H354.50M351.20,961.33V986.23M347.90,986.23H354.50" stroke="#000" stroke-width="1.5" fill="none"/>
<path d="M388.10,909.13H394.70M391.40,909.13V920.92M388.10,920.92H394.70" stroke="#000" stroke-width="1.5" fill="none"/>
<path d="M428.30,870.91H434.90M431.60,870.91V882.70M428.30,882.70H434.90" stroke="#000" stroke-width="1.5" fill="none"/>
<path d="M267.50,1053.93H274.10M270.80,1053.93V1056.11M267.50,1056.11H274.10" stroke="#000" stroke-width="1.5" fill="none"/>
<path d="M307.70,1049.12H314.30M311.00,1049.12V1053.49M307.70,1053.49H314.30" stroke="#000" stroke-width="1.5" fill="none"/>
<path d="M347.90,1036.24H354.50M351.20,1036.24V1044.98M347.90,1044.98H354.50" stroke="#000" stroke-width="1.5" fill="none"/>
<path d="M388.10,1006.97H394.70M391.40,1006.97V1020.51M388.10,1020.51H394.70" stroke="#000" stroke-width="1.5" fill="none"/>
<path d="M428.30,955.21H434.90M431.60,955.21V969.19M428.30,969.19H434.90" stroke="#000" stroke-width="1.5" fill="none"/>
<path d="M307.70,1053.06H314.30M311.00,1053.06V1055.24M307.70,1055.24H314.30" stroke="#000" stroke-width="1.5" fill="none"/>
<path d="M347.90,1044.10H354.50M351.20,1044.10V1048.47M347.90,1048.47H354.50" stroke="#000" stroke-width="1.5" fill="none"/>
<path d="M388.10,1025.54H394.70M391.40,1025.54V1034.27M388.10,1034.27H394.70" stroke="#000" stroke-width="1.5" fill="none"/>
<path d="M428.30,988.63H434.90M431.60,988.63V1004.79M428.30,1004.79H434.90" stroke="#000" stroke-width="1.5" fill="none"/>
<path d="M347.90,1047.81H354.50M351.20,1047.81V1052.18M347.90,1052.18H354.50" stroke="#000" stroke-width="1.5" fill="none"/>
<path d="M388.10,1033.40H394.70M391.40,1033.40V1042.14M388.10,1042.14H394.70" stroke="#000" stroke-width="1.5" fill="none"/>
<path d="M428.30,1009.59H434.90M431.60,1009.59V1027.07M428.30,1027.07H434.90" stroke="#000" stroke-width="1.5" fill="none"/>
<path d="M347.90,1053.06H354.50M351.20,1053.06V1055.24M347.90,1055.24H354.50" stroke="#000" stroke-width="1.5" fill="none"/>
<path d="M388.10,1045.41H394.70M391.40,1045.41V1049.78M388.10,1049.78H394.70" stroke="#000" stroke-width="1.5" fill="none"/>
<path d="M428.30,1025.54H434.90M431.60,1025.54V1034.27M428.30,1034.27H434.90" stroke="#000" stroke-width="1.5" fill="none"/>
<path d="M388.10,1051.96H394.70M391.40,1051.96V1056.33M388.10,1056.33H394.70" stroke="#fbb81f" stroke-width="1.5" fill="none"/>
<path d="M428.30,1034.06H434.90M431.60,1034.06V1055.90M428.30,1055.90H434.90" stroke="#fbb81f" stroke-width="1.5" fill="none"/>
<path d="M428.30,1049.12H434.90M431.60,1049.12V1053.49M428.30,1053.49H434.90" stroke="#000" stroke-width="1.5" fill="none"/>
<path d="M428.30,1055.24H434.90M431.60,1055.24V1057.42M428.30,1057.42H434.90" stroke="#000" stroke-width="1.5" fill="none"/>
<path d="M115.80,1053.91 L118.70,1053.36 L121.60,1052.78 L124.50,1052.15 L127.41,1051.48 L130.31,1050.75 L133.21,1049.97 L136.11,1049.13 L139.01,1048.23 L141.91,1047.27 L144.81,1046.23 L147.71,1045.12 L150.61,1043.94 L153.51,1042.67 L156.41,1041.31 L159.31,1039.87 L162.21,1038.32 L165.12,1036.68 L168.02,1034.93 L170.92,1033.08 L173.82,1031.11 L176.72,1029.02 L179.62,1026.81 L182.52,1024.48 L185.42,1022.02 L188.32,1019.43 L191.22,1016.71 L194.12,1013.86 L197.02,1010.88 L199.92,1007.76 L202.83,1004.52 L205.73,1001.15 L208.63,997.65 L211.53,994.04 L214.43,990.31 L217.33,986.48 L220.23,982.54 L223.13,978.52 L226.03,974.42 L228.93,970.25 L231.83,966.02 L234.73,961.75 L237.63,957.45 L240.54,953.12 L243.44,948.80 L246.34,944.48 L249.24,940.18 L252.14,935.92 L255.04,931.70 L257.94,927.55 L260.84,923.46 L263.74,919.46 L266.64,915.56 L269.54,911.75 L272.44,908.05 L275.34,904.46 L278.24,901.00 L281.15,897.66 L284.05,894.45 L286.95,891.37 L289.85,888.42 L292.75,885.60 L295.65,882.91 L298.55,880.35 L301.45,877.93 L304.35,875.63 L307.25,873.45 L310.15,871.39 L313.05,869.45 L315.95,867.62 L318.86,865.90 L321.76,864.28 L324.66,862.76 L327.56,861.34 L330.46,860.01 L333.36,858.76 L336.26,857.59 L339.16,856.50 L342.06,855.48 L344.96,854.54 L347.86,853.65 L350.76,852.83 L353.66,852.06 L356.57,851.35 L359.47,850.69 L362.37,850.07 L365.27,849.50 L368.17,848.96 L371.07,848.47 L373.97,848.01 L376.87,847.59 L379.77,847.19 L382.67,846.83 L385.57,846.49 L388.47,846.18 L391.37,845.89 L394.28,845.62 L397.18,845.37 L400.08,845.14 L402.98,844.92 L405.88,844.73 L408.78,844.54 L411.68,844.37 L414.58,844.22 L417.48,844.07 L420.38,843.94 L423.28,843.81 L426.18,843.70 L429.08,843.59 L431.99,843.50 L434.89,843.40 L437.79,843.32 L440.69,843.24 L443.59,843.17 L446.49,843.11 L449.39,843.04 L452.29,842.99 L455.19,842.94 L458.09,842.89 L460.99,842.84 L463.89,842.80" stroke="#465265" stroke-width="2.75" fill="none" stroke-linejoin="round" stroke-linecap="round"/>
<path d="M115.80,1051.56 L118.70,1050.83 L121.60,1050.06 L124.50,1049.22 L127.41,1048.32 L130.31,1047.36 L133.21,1046.33 L136.11,1045.22 L139.01,1044.03 L141.91,1042.76 L144.81,1041.40 L147.71,1039.95 L150.61,1038.40 L153.51,1036.74 L156.41,1034.98 L159.31,1033.10 L162.21,1031.11 L165.12,1029.00 L168.02,1026.76 L170.92,1024.38 L173.82,1021.88 L176.72,1019.24 L179.62,1016.45 L182.52,1013.53 L185.42,1010.46 L188.32,1007.25 L191.22,1003.90 L194.12,1000.41 L197.02,996.77 L199.92,993.01 L202.83,989.11 L205.73,985.09 L208.63,980.95 L211.53,976.70 L214.43,972.35 L217.33,967.92 L220.23,963.41 L223.13,958.83 L226.03,954.20 L228.93,949.54 L231.83,944.85 L234.73,940.15 L237.63,935.46 L240.54,930.80 L243.44,926.16 L246.34,921.58 L249.24,917.06 L252.14,912.61 L255.04,908.26 L257.94,904.00 L260.84,899.84 L263.74,895.81 L266.64,891.89 L269.54,888.11 L272.44,884.46 L275.34,880.95 L278.24,877.58 L281.15,874.35 L284.05,871.27 L286.95,868.33 L289.85,865.53 L292.75,862.87 L295.65,860.35 L298.55,857.96 L301.45,855.70 L304.35,853.57 L307.25,851.57 L310.15,849.68 L313.05,847.90 L315.95,846.24 L318.86,844.67 L321.76,843.21 L324.66,841.84 L327.56,840.56 L330.46,839.36 L333.36,838.24 L336.26,837.20 L339.16,836.23 L342.06,835.32 L344.96,834.48 L347.86,833.69 L350.76,832.96 L353.66,832.29 L356.57,831.66 L359.47,831.07 L362.37,830.53 L365.27,830.02 L368.17,829.56 L371.07,829.12 L373.97,828.72 L376.87,828.35 L379.77,828.00 L382.67,827.68 L385.57,827.39 L388.47,827.11 L391.37,826.86 L394.28,826.62 L397.18,826.41 L400.08,826.20 L402.98,826.02 L405.88,825.85 L408.78,825.69 L411.68,825.54 L414.58,825.40 L417.48,825.28 L420.38,825.16 L423.28,825.05 L426.18,824.95 L429.08,824.86 L431.99,824.77 L434.89,824.70 L437.79,824.62 L440.69,824.56 L443.59,824.49 L446.49,824.44 L449.39,824.38 L452.29,824.33 L455.19,824.29 L458.09,824.25 L460.99,824.21 L463.89,824.17" stroke="#0c6a55" stroke-width="2.75" fill="none" stroke-linejoin="round" stroke-linecap="round"/>
<path d="M115.80,1052.78 L118.70,1052.15 L121.60,1051.47 L124.50,1050.74 L127.41,1049.95 L130.31,1049.11 L133.21,1048.20 L136.11,1047.23 L139.01,1046.18 L141.91,1045.07 L144.81,1043.87 L147.71,1042.58 L150.61,1041.21 L153.51,1039.74 L156.41,1038.18 L159.31,1036.51 L162.21,1034.73 L165.12,1032.83 L168.02,1030.82 L170.92,1028.69 L173.82,1026.42 L176.72,1024.03 L179.62,1021.50 L182.52,1018.83 L185.42,1016.02 L188.32,1013.07 L191.22,1009.97 L194.12,1006.73 L197.02,1003.35 L199.92,999.82 L202.83,996.15 L205.73,992.35 L208.63,988.42 L211.53,984.36 L214.43,980.18 L217.33,975.89 L220.23,971.50 L223.13,967.03 L226.03,962.47 L228.93,957.85 L231.83,953.18 L234.73,948.47 L237.63,943.74 L240.54,939.00 L243.44,934.27 L246.34,929.56 L249.24,924.88 L252.14,920.26 L255.04,915.70 L257.94,911.21 L260.84,906.82 L263.74,902.52 L266.64,898.33 L269.54,894.25 L272.44,890.31 L275.34,886.49 L278.24,882.81 L281.15,879.27 L284.05,875.87 L286.95,872.61 L289.85,869.50 L292.75,866.53 L295.65,863.71 L298.55,861.02 L301.45,858.48 L304.35,856.07 L307.25,853.80 L310.15,851.65 L313.05,849.62 L315.95,847.72 L318.86,845.93 L321.76,844.25 L324.66,842.67 L327.56,841.19 L330.46,839.81 L333.36,838.52 L336.26,837.31 L339.16,836.18 L342.06,835.13 L344.96,834.15 L347.86,833.24 L350.76,832.39 L353.66,831.59 L356.57,830.86 L359.47,830.17 L362.37,829.54 L365.27,828.95 L368.17,828.40 L371.07,827.89 L373.97,827.42 L376.87,826.98 L379.77,826.58 L382.67,826.20 L385.57,825.86 L388.47,825.53 L391.37,825.23 L394.28,824.96 L397.18,824.70 L400.08,824.46 L402.98,824.24 L405.88,824.04 L408.78,823.85 L411.68,823.68 L414.58,823.52 L417.48,823.37 L420.38,823.23 L423.28,823.11 L426.18,822.99 L429.08,822.88 L431.99,822.78 L434.89,822.69 L437.79,822.60 L440.69,822.52 L443.59,822.45 L446.49,822.38 L449.39,822.32 L452.29,822.26 L455.19,822.20 L458.09,822.15 L460.99,822.11 L463.89,822.07" stroke="#f7901e" stroke-width="2.75" fill="none" stroke-linejoin="round" stroke-linecap="round"/>
<path d="M115.80,1060.47 L118.70,1060.45 L121.60,1060.43 L124.50,1060.41 L127.41,1060.39 L130.31,1060.36 L133.21,1060.33 L136.11,1060.30 L139.01,1060.27 L141.91,1060.23 L144.81,1060.19 L147.71,1060.15 L150.61,1060.11 L153.51,1060.06 L156.41,1060.01 L159.31,1059.95 L162.21,1059.89 L165.12,1059.82 L168.02,1059.75 L170.92,1059.67 L173.82,1059.58 L176.72,1059.49 L179.62,1059.39 L182.52,1059.29 L185.42,1059.17 L188.32,1059.05 L191.22,1058.91 L194.12,1058.76 L197.02,1058.61 L199.92,1058.43 L202.83,1058.25 L205.73,1058.05 L208.63,1057.83 L211.53,1057.60 L214.43,1057.35 L217.33,1057.08 L220.23,1056.78 L223.13,1056.47 L226.03,1056.13 L228.93,1055.76 L231.83,1055.36 L234.73,1054.93 L237.63,1054.47 L240.54,1053.97 L243.44,1053.43 L246.34,1052.85 L249.24,1052.23 L252.14,1051.56 L255.04,1050.84 L257.94,1050.07 L260.84,1049.24 L263.74,1048.35 L266.64,1047.39 L269.54,1046.36 L272.44,1045.26 L275.34,1044.09 L278.24,1042.83 L281.15,1041.48 L284.05,1040.05 L286.95,1038.52 L289.85,1036.89 L292.75,1035.15 L295.65,1033.31 L298.55,1031.35 L301.45,1029.28 L304.35,1027.08 L307.25,1024.77 L310.15,1022.32 L313.05,1019.75 L315.95,1017.05 L318.86,1014.21 L321.76,1011.25 L324.66,1008.15 L327.56,1004.92 L330.46,1001.56 L333.36,998.08 L336.26,994.48 L339.16,990.77 L342.06,986.95 L344.96,983.03 L347.86,979.01 L350.76,974.92 L353.66,970.76 L356.57,966.54 L359.47,962.27 L362.37,957.97 L365.27,953.65 L368.17,949.32 L371.07,945.00 L373.97,940.70 L376.87,936.43 L379.77,932.21 L382.67,928.05 L385.57,923.95 L388.47,919.94 L391.37,916.02 L394.28,912.20 L397.18,908.49 L400.08,904.89 L402.98,901.41 L405.88,898.06 L408.78,894.83 L411.68,891.73 L414.58,888.77 L417.48,885.93 L420.38,883.23 L423.28,880.66 L426.18,878.21 L429.08,875.90 L431.99,873.71 L434.89,871.63 L437.79,869.68 L440.69,867.84 L443.59,866.10 L446.49,864.47 L449.39,862.94 L452.29,861.51 L455.19,860.16 L458.09,858.90 L460.99,857.73 L463.89,856.63" stroke="#e6138b" stroke-width="2.75" fill="none" stroke-linejoin="round" stroke-linecap="round"/>
<path d="M115.80,1060.67 L118.70,1060.66 L121.60,1060.66 L124.50,1060.66 L127.41,1060.65 L130.31,1060.65 L133.21,1060.65 L136.11,1060.64 L139.01,1060.64 L141.91,1060.63 L144.81,1060.63 L147.71,1060.62 L150.61,1060.61 L153.51,1060.61 L156.41,1060.60 L159.31,1060.59 L162.21,1060.58 L165.12,1060.57 L168.02,1060.56 L170.92,1060.55 L173.82,1060.54 L176.72,1060.53 L179.62,1060.51 L182.52,1060.50 L185.42,1060.48 L188.32,1060.46 L191.22,1060.44 L194.12,1060.42 L197.02,1060.40 L199.92,1060.37 L202.83,1060.34 L205.73,1060.32 L208.63,1060.28 L211.53,1060.25 L214.43,1060.21 L217.33,1060.17 L220.23,1060.13 L223.13,1060.08 L226.03,1060.03 L228.93,1059.98 L231.83,1059.92 L234.73,1059.85 L237.63,1059.78 L240.54,1059.71 L243.44,1059.63 L246.34,1059.54 L249.24,1059.44 L252.14,1059.34 L255.04,1059.23 L257.94,1059.11 L260.84,1058.98 L263.74,1058.84 L266.64,1058.68 L269.54,1058.52 L272.44,1058.34 L275.34,1058.15 L278.24,1057.94 L281.15,1057.72 L284.05,1057.47 L286.95,1057.21 L289.85,1056.93 L292.75,1056.62 L295.65,1056.29 L298.55,1055.94 L301.45,1055.55 L304.35,1055.14 L307.25,1054.70 L310.15,1054.21 L313.05,1053.70 L315.95,1053.14 L318.86,1052.54 L321.76,1051.89 L324.66,1051.20 L327.56,1050.45 L330.46,1049.65 L333.36,1048.78 L336.26,1047.86 L339.16,1046.87 L342.06,1045.80 L344.96,1044.66 L347.86,1043.45 L350.76,1042.14 L353.66,1040.75 L356.57,1039.27 L359.47,1037.69 L362.37,1036.00 L365.27,1034.21 L368.17,1032.31 L371.07,1030.29 L373.97,1028.16 L376.87,1025.90 L379.77,1023.52 L382.67,1021.01 L385.57,1018.37 L388.47,1015.60 L391.37,1012.69 L394.28,1009.66 L397.18,1006.49 L400.08,1003.20 L402.98,999.78 L405.88,996.23 L408.78,992.57 L411.68,988.80 L414.58,984.93 L417.48,980.96 L420.38,976.91 L423.28,972.78 L426.18,968.58 L429.08,964.34 L431.99,960.05 L434.89,955.74 L437.79,951.41 L440.69,947.08 L443.59,942.77 L446.49,938.49 L449.39,934.24 L452.29,930.05 L455.19,925.92 L458.09,921.87 L460.99,917.90 L463.89,914.03" stroke="#3bb44a" stroke-width="2.75" fill="none" stroke-linejoin="round" stroke-linecap="round"/>
<path d="M115.80,1060.68 L118.70,1060.68 L121.60,1060.68 L124.50,1060.68 L127.41,1060.68 L130.31,1060.67 L133.21,1060.67 L136.11,1060.67 L139.01,1060.67 L141.91,1060.67 L144.81,1060.66 L147.71,1060.66 L150.61,1060.66 L153.51,1060.65 L156.41,1060.65 L159.31,1060.64 L162.21,1060.64 L165.12,1060.63 L168.02,1060.63 L170.92,1060.62 L173.82,1060.62 L176.72,1060.61 L179.62,1060.60 L182.52,1060.59 L185.42,1060.59 L188.32,1060.58 L191.22,1060.57 L194.12,1060.55 L197.02,1060.54 L199.92,1060.53 L202.83,1060.52 L205.73,1060.50 L208.63,1060.48 L211.53,1060.47 L214.43,1060.45 L217.33,1060.43 L220.23,1060.40 L223.13,1060.38 L226.03,1060.35 L228.93,1060.32 L231.83,1060.29 L234.73,1060.26 L237.63,1060.22 L240.54,1060.18 L243.44,1060.14 L246.34,1060.10 L249.24,1060.05 L252.14,1059.99 L255.04,1059.94 L257.94,1059.87 L260.84,1059.80 L263.74,1059.73 L266.64,1059.65 L269.54,1059.56 L272.44,1059.47 L275.34,1059.37 L278.24,1059.26 L281.15,1059.14 L284.05,1059.02 L286.95,1058.88 L289.85,1058.73 L292.75,1058.57 L295.65,1058.40 L298.55,1058.21 L301.45,1058.00 L304.35,1057.79 L307.25,1057.55 L310.15,1057.29 L313.05,1057.02 L315.95,1056.72 L318.86,1056.40 L321.76,1056.05 L324.66,1055.67 L327.56,1055.27 L330.46,1054.83 L333.36,1054.36 L336.26,1053.86 L339.16,1053.31 L342.06,1052.72 L344.96,1052.09 L347.86,1051.41 L350.76,1050.68 L353.66,1049.89 L356.57,1049.05 L359.47,1048.14 L362.37,1047.17 L365.27,1046.13 L368.17,1045.01 L371.07,1043.82 L373.97,1042.54 L376.87,1041.18 L379.77,1039.72 L382.67,1038.17 L385.57,1036.51 L388.47,1034.76 L391.37,1032.89 L394.28,1030.91 L397.18,1028.81 L400.08,1026.59 L402.98,1024.24 L405.88,1021.77 L408.78,1019.17 L411.68,1016.44 L414.58,1013.57 L417.48,1010.58 L420.38,1007.45 L423.28,1004.19 L426.18,1000.81 L429.08,997.30 L431.99,993.68 L434.89,989.94 L437.79,986.10 L440.69,982.15 L443.59,978.12 L446.49,974.02 L449.39,969.84 L452.29,965.61 L455.19,961.33 L458.09,957.02 L460.99,952.70 L463.89,948.37" stroke="#b4692c" stroke-width="2.75" fill="none" stroke-linejoin="round" stroke-linecap="round"/>
<path d="M115.80,1060.69 L118.70,1060.69 L121.60,1060.69 L124.50,1060.69 L127.41,1060.69 L130.31,1060.68 L133.21,1060.68 L136.11,1060.68 L139.01,1060.68 L141.91,1060.68 L144.81,1060.68 L147.71,1060.68 L150.61,1060.67 L153.51,1060.67 L156.41,1060.67 L159.31,1060.67 L162.21,1060.66 L165.12,1060.66 L168.02,1060.66 L170.92,1060.65 L173.82,1060.65 L176.72,1060.65 L179.62,1060.64 L182.52,1060.64 L185.42,1060.63 L188.32,1060.63 L191.22,1060.62 L194.12,1060.61 L197.02,1060.61 L199.92,1060.60 L202.83,1060.59 L205.73,1060.58 L208.63,1060.57 L211.53,1060.56 L214.43,1060.55 L217.33,1060.54 L220.23,1060.52 L223.13,1060.51 L226.03,1060.49 L228.93,1060.47 L231.83,1060.46 L234.73,1060.44 L237.63,1060.41 L240.54,1060.39 L243.44,1060.37 L246.34,1060.34 L249.24,1060.31 L252.14,1060.28 L255.04,1060.24 L257.94,1060.20 L260.84,1060.16 L263.74,1060.12 L266.64,1060.07 L269.54,1060.02 L272.44,1059.96 L275.34,1059.90 L278.24,1059.83 L281.15,1059.76 L284.05,1059.69 L286.95,1059.60 L289.85,1059.51 L292.75,1059.42 L295.65,1059.31 L298.55,1059.20 L301.45,1059.07 L304.35,1058.94 L307.25,1058.80 L310.15,1058.64 L313.05,1058.47 L315.95,1058.29 L318.86,1058.10 L321.76,1057.88 L324.66,1057.66 L327.56,1057.41 L330.46,1057.14 L333.36,1056.85 L336.26,1056.54 L339.16,1056.20 L342.06,1055.84 L344.96,1055.45 L347.86,1055.03 L350.76,1054.57 L353.66,1054.08 L356.57,1053.56 L359.47,1052.99 L362.37,1052.38 L365.27,1051.72 L368.17,1051.01 L371.07,1050.25 L373.97,1049.43 L376.87,1048.55 L379.77,1047.61 L382.67,1046.60 L385.57,1045.52 L388.47,1044.36 L391.37,1043.12 L394.28,1041.79 L397.18,1040.38 L400.08,1038.87 L402.98,1037.26 L405.88,1035.55 L408.78,1033.73 L411.68,1031.80 L414.58,1029.75 L417.48,1027.59 L420.38,1025.30 L423.28,1022.88 L426.18,1020.34 L429.08,1017.67 L431.99,1014.86 L434.89,1011.92 L437.79,1008.85 L440.69,1005.65 L443.59,1002.33 L446.49,998.87 L449.39,995.30 L452.29,991.61 L455.19,987.81 L458.09,983.91 L460.99,979.92 L463.89,975.85" stroke="#2ca9e1" stroke-width="2.75" fill="none" stroke-linejoin="round" stroke-linecap="round"/>
<path d="M115.80,1060.69 L118.70,1060.69 L121.60,1060.69 L124.50,1060.69 L127.41,1060.69 L130.31,1060.69 L133.21,1060.69 L136.11,1060.69 L139.01,1060.69 L141.91,1060.69 L144.81,1060.69 L147.71,1060.68 L150.61,1060.68 L153.51,1060.68 L156.41,1060.68 L159.31,1060.68 L162.21,1060.68 L165.12,1060.67 L168.02,1060.67 L170.92,1060.67 L173.82,1060.67 L176.72,1060.66 L179.62,1060.66 L182.52,1060.66 L185.42,1060.66 L188.32,1060.65 L191.22,1060.65 L194.12,1060.64 L197.02,1060.64 L199.92,1060.63 L202.83,1060.63 L205.73,1060.62 L208.63,1060.62 L211.53,1060.61 L214.43,1060.60 L217.33,1060.59 L220.23,1060.58 L223.13,1060.57 L226.03,1060.56 L228.93,1060.55 L231.83,1060.54 L234.73,1060.53 L237.63,1060.51 L240.54,1060.50 L243.44,1060.48 L246.34,1060.46 L249.24,1060.44 L252.14,1060.42 L255.04,1060.40 L257.94,1060.37 L260.84,1060.35 L263.74,1060.32 L266.64,1060.29 L269.54,1060.25 L272.44,1060.22 L275.34,1060.18 L278.24,1060.13 L281.15,1060.09 L284.05,1060.04 L286.95,1059.98 L289.85,1059.92 L292.75,1059.86 L295.65,1059.79 L298.55,1059.72 L301.45,1059.63 L304.35,1059.55 L307.25,1059.45 L310.15,1059.35 L313.05,1059.24 L315.95,1059.12 L318.86,1058.99 L321.76,1058.85 L324.66,1058.70 L327.56,1058.54 L330.46,1058.36 L333.36,1058.17 L336.26,1057.96 L339.16,1057.74 L342.06,1057.50 L344.96,1057.24 L347.86,1056.96 L350.76,1056.66 L353.66,1056.33 L356.57,1055.98 L359.47,1055.59 L362.37,1055.18 L365.27,1054.74 L368.17,1054.26 L371.07,1053.75 L373.97,1053.20 L376.87,1052.60 L379.77,1051.96 L382.67,1051.27 L385.57,1050.53 L388.47,1049.73 L391.37,1048.87 L394.28,1047.95 L397.18,1046.97 L400.08,1045.91 L402.98,1044.78 L405.88,1043.57 L408.78,1042.28 L411.68,1040.89 L414.58,1039.42 L417.48,1037.85 L420.38,1036.17 L423.28,1034.39 L426.18,1032.50 L429.08,1030.50 L431.99,1028.38 L434.89,1026.13 L437.79,1023.76 L440.69,1021.26 L443.59,1018.64 L446.49,1015.88 L449.39,1012.99 L452.29,1009.97 L455.19,1006.81 L458.09,1003.53 L460.99,1000.12 L463.89,996.59" stroke="#5b2673" stroke-width="2.75" fill="none" stroke-linejoin="round" stroke-linecap="round"/>
<path d="M115.80,1060.70 L118.70,1060.70 L121.60,1060.70 L124.50,1060.70 L127.41,1060.70 L130.31,1060.69 L133.21,1060.69 L136.11,1060.69 L139.01,1060.69 L141.91,1060.69 L144.81,1060.69 L147.71,1060.69 L150.61,1060.69 L153.51,1060.69 L156.41,1060.69 L159.31,1060.69 L162.21,1060.69 L165.12,1060.69 L168.02,1060.69 L170.92,1060.68 L173.82,1060.68 L176.72,1060.68 L179.62,1060.68 L182.52,1060.68 L185.42,1060.68 L188.32,1060.68 L191.22,1060.67 L194.12,1060.67 L197.02,1060.67 L199.92,1060.67 L202.83,1060.66 L205.73,1060.66 L208.63,1060.66 L211.53,1060.65 L214.43,1060.65 L217.33,1060.65 L220.23,1060.64 L223.13,1060.64 L226.03,1060.63 L228.93,1060.63 L231.83,1060.62 L234.73,1060.61 L237.63,1060.61 L240.54,1060.60 L243.44,1060.59 L246.34,1060.58 L249.24,1060.57 L252.14,1060.56 L255.04,1060.55 L257.94,1060.54 L260.84,1060.52 L263.74,1060.51 L266.64,1060.49 L269.54,1060.48 L272.44,1060.46 L275.34,1060.44 L278.24,1060.42 L281.15,1060.39 L284.05,1060.37 L286.95,1060.34 L289.85,1060.31 L292.75,1060.28 L295.65,1060.24 L298.55,1060.20 L301.45,1060.16 L304.35,1060.12 L307.25,1060.07 L310.15,1060.02 L313.05,1059.96 L315.95,1059.90 L318.86,1059.84 L321.76,1059.77 L324.66,1059.69 L327.56,1059.61 L330.46,1059.52 L333.36,1059.42 L336.26,1059.32 L339.16,1059.20 L342.06,1059.08 L344.96,1058.95 L347.86,1058.81 L350.76,1058.65 L353.66,1058.48 L356.57,1058.30 L359.47,1058.11 L362.37,1057.90 L365.27,1057.67 L368.17,1057.42 L371.07,1057.15 L373.97,1056.87 L376.87,1056.56 L379.77,1056.22 L382.67,1055.86 L385.57,1055.47 L388.47,1055.05 L391.37,1054.60 L394.28,1054.11 L397.18,1053.58 L400.08,1053.02 L402.98,1052.41 L405.88,1051.75 L408.78,1051.05 L411.68,1050.29 L414.58,1049.47 L417.48,1048.60 L420.38,1047.66 L423.28,1046.65 L426.18,1045.57 L429.08,1044.42 L431.99,1043.18 L434.89,1041.86 L437.79,1040.45 L440.69,1038.95 L443.59,1037.34 L446.49,1035.64 L449.39,1033.82 L452.29,1031.90 L455.19,1029.86 L458.09,1027.70 L460.99,1025.42 L463.89,1023.01" stroke="#fbb81f" stroke-width="2.75" fill="none" stroke-linejoin="round" stroke-linecap="round"/>
<path d="M115.80,1060.70 L118.70,1060.70 L121.60,1060.70 L124.50,1060.70 L127.41,1060.70 L130.31,1060.70 L133.21,1060.70 L136.11,1060.70 L139.01,1060.70 L141.91,1060.70 L144.81,1060.70 L147.71,1060.70 L150.61,1060.70 L153.51,1060.70 L156.41,1060.70 L159.31,1060.69 L162.21,1060.69 L165.12,1060.69 L168.02,1060.69 L170.92,1060.69 L173.82,1060.69 L176.72,1060.69 L179.62,1060.69 L182.52,1060.69 L185.42,1060.69 L188.32,1060.69 L191.22,1060.69 L194.12,1060.69 L197.02,1060.69 L199.92,1060.68 L202.83,1060.68 L205.73,1060.68 L208.63,1060.68 L211.53,1060.68 L214.43,1060.68 L217.33,1060.67 L220.23,1060.67 L223.13,1060.67 L226.03,1060.67 L228.93,1060.66 L231.83,1060.66 L234.73,1060.66 L237.63,1060.66 L240.54,1060.65 L243.44,1060.65 L246.34,1060.64 L249.24,1060.64 L252.14,1060.63 L255.04,1060.63 L257.94,1060.62 L260.84,1060.62 L263.74,1060.61 L266.64,1060.60 L269.54,1060.59 L272.44,1060.58 L275.34,1060.57 L278.24,1060.56 L281.15,1060.55 L284.05,1060.54 L286.95,1060.53 L289.85,1060.51 L292.75,1060.50 L295.65,1060.48 L298.55,1060.46 L301.45,1060.44 L304.35,1060.42 L307.25,1060.40 L310.15,1060.38 L313.05,1060.35 L315.95,1060.32 L318.86,1060.29 L321.76,1060.25 L324.66,1060.22 L327.56,1060.18 L330.46,1060.13 L333.36,1060.09 L336.26,1060.04 L339.16,1059.98 L342.06,1059.92 L344.96,1059.86 L347.86,1059.79 L350.76,1059.72 L353.66,1059.64 L356.57,1059.55 L359.47,1059.45 L362.37,1059.35 L365.27,1059.24 L368.17,1059.12 L371.07,1058.99 L373.97,1058.85 L376.87,1058.70 L379.77,1058.54 L382.67,1058.36 L385.57,1058.17 L388.47,1057.97 L391.37,1057.75 L394.28,1057.51 L397.18,1057.25 L400.08,1056.97 L402.98,1056.66 L405.88,1056.34 L408.78,1055.98 L411.68,1055.60 L414.58,1055.20 L417.48,1054.75 L420.38,1054.28 L423.28,1053.76 L426.18,1053.21 L429.08,1052.62 L431.99,1051.98 L434.89,1051.29 L437.79,1050.55 L440.69,1049.75 L443.59,1048.90 L446.49,1047.98 L449.39,1047.00 L452.29,1045.94 L455.19,1044.81 L458.09,1043.60 L460.99,1042.31 L463.89,1040.93" stroke="#c8102e" stroke-width="2.75" fill="none" stroke-linejoin="round" stroke-linecap="round"/>
<path d="M115.80,1060.70 L118.70,1060.70 L121.60,1060.70 L124.50,1060.70 L127.41,1060.70 L130.31,1060.70 L133.21,1060.70 L136.11,1060.70 L139.01,1060.70 L141.91,1060.70 L144.81,1060.70 L147.71,1060.70 L150.61,1060.70 L153.51,1060.70 L156.41,1060.70 L159.31,1060.70 L162.21,1060.70 L165.12,1060.70 L168.02,1060.70 L170.92,1060.70 L173.82,1060.70 L176.72,1060.69 L179.62,1060.69 L182.52,1060.69 L185.42,1060.69 L188.32,1060.69 L191.22,1060.69 L194.12,1060.69 L197.02,1060.69 L199.92,1060.69 L202.83,1060.69 L205.73,1060.69 L208.63,1060.69 L211.53,1060.69 L214.43,1060.69 L217.33,1060.68 L220.23,1060.68 L223.13,1060.68 L226.03,1060.68 L228.93,1060.68 L231.83,1060.68 L234.73,1060.68 L237.63,1060.67 L240.54,1060.67 L243.44,1060.67 L246.34,1060.67 L249.24,1060.66 L252.14,1060.66 L255.04,1060.66 L257.94,1060.65 L260.84,1060.65 L263.74,1060.65 L266.64,1060.64 L269.54,1060.64 L272.44,1060.63 L275.34,1060.63 L278.24,1060.62 L281.15,1060.61 L284.05,1060.61 L286.95,1060.60 L289.85,1060.59 L292.75,1060.58 L295.65,1060.57 L298.55,1060.56 L301.45,1060.55 L304.35,1060.54 L307.25,1060.52 L310.15,1060.51 L313.05,1060.49 L315.95,1060.47 L318.86,1060.46 L321.76,1060.44 L324.66,1060.41 L327.56,1060.39 L330.46,1060.36 L333.36,1060.34 L336.26,1060.31 L339.16,1060.27 L342.06,1060.24 L344.96,1060.20 L347.86,1060.16 L350.76,1060.12 L353.66,1060.07 L356.57,1060.02 L359.47,1059.96 L362.37,1059.90 L365.27,1059.83 L368.17,1059.76 L371.07,1059.69 L373.97,1059.60 L376.87,1059.51 L379.77,1059.41 L382.67,1059.31 L385.57,1059.20 L388.47,1059.07 L391.37,1058.94 L394.28,1058.79 L397.18,1058.64 L400.08,1058.47 L402.98,1058.29 L405.88,1058.09 L408.78,1057.88 L411.68,1057.65 L414.58,1057.40 L417.48,1057.13 L420.38,1056.85 L423.28,1056.53 L426.18,1056.20 L429.08,1055.83 L431.99,1055.44 L434.89,1055.02 L437.79,1054.56 L440.69,1054.07 L443.59,1053.54 L446.49,1052.98 L449.39,1052.36 L452.29,1051.70 L455.19,1050.99 L458.09,1050.23 L460.99,1049.41 L463.89,1048.53" stroke="#1b5691" stroke-width="2.75" fill="none" stroke-linejoin="round" stroke-linecap="round"/>
<circle cx="150.20" cy="1030.12" r="3.7" fill="#465265"/>
<circle cx="190.40" cy="1007.41" r="3.7" fill="#465265"/>
<circle cx="230.60" cy="975.09" r="3.7" fill="#465265"/>
<circle cx="270.80" cy="927.26" r="3.7" fill="#465265"/>
<circle cx="311.00" cy="883.58" r="3.7" fill="#465265"/>
<circle cx="351.20" cy="856.50" r="3.7" fill="#465265"/>
<circle cx="391.40" cy="844.48" r="3.7" fill="#465265"/>
<circle cx="431.60" cy="835.31" r="3.7" fill="#465265"/>
<circle cx="150.20" cy="1027.94" r="3.7" fill="#0c6a55"/>
<circle cx="190.40" cy="997.80" r="3.7" fill="#0c6a55"/>
<circle cx="230.60" cy="949.10" r="3.7" fill="#0c6a55"/>
<circle cx="270.80" cy="896.68" r="3.7" fill="#0c6a55"/>
<circle cx="311.00" cy="849.51" r="3.7" fill="#0c6a55"/>
<circle cx="351.20" cy="832.91" r="3.7" fill="#0c6a55"/>
<circle cx="391.40" cy="834.66" r="3.7" fill="#0c6a55"/>
<circle cx="431.60" cy="809.76" r="3.7" fill="#0c6a55"/>
<circle cx="150.20" cy="1027.28" r="3.7" fill="#f7901e"/>
<circle cx="190.40" cy="1002.82" r="3.7" fill="#f7901e"/>
<circle cx="230.60" cy="963.51" r="3.7" fill="#f7901e"/>
<circle cx="270.80" cy="901.49" r="3.7" fill="#f7901e"/>
<circle cx="311.00" cy="852.13" r="3.7" fill="#f7901e"/>
<circle cx="351.20" cy="827.67" r="3.7" fill="#f7901e"/>
<circle cx="391.40" cy="834.66" r="3.7" fill="#f7901e"/>
<circle cx="431.60" cy="815.22" r="3.7" fill="#f7901e"/>
<circle cx="150.20" cy="1059.83" r="3.7" fill="#e6138b"/>
<circle cx="190.40" cy="1058.95" r="3.7" fill="#e6138b"/>
<circle cx="230.60" cy="1054.58" r="3.7" fill="#e6138b"/>
<circle cx="270.80" cy="1046.07" r="3.7" fill="#e6138b"/>
<circle cx="311.00" cy="1023.35" r="3.7" fill="#e6138b"/>
<circle cx="351.20" cy="973.78" r="3.7" fill="#e6138b"/>
<circle cx="391.40" cy="915.03" r="3.7" fill="#e6138b"/>
<circle cx="431.60" cy="876.81" r="3.7" fill="#e6138b"/>
<circle cx="150.20" cy="1060.70" r="3.7" fill="#3bb44a"/>
<circle cx="190.40" cy="1060.26" r="3.7" fill="#3bb44a"/>
<circle cx="230.60" cy="1058.52" r="3.7" fill="#3bb44a"/>
<circle cx="270.80" cy="1055.02" r="3.7" fill="#3bb44a"/>
<circle cx="311.00" cy="1051.31" r="3.7" fill="#3bb44a"/>
<circle cx="351.20" cy="1040.61" r="3.7" fill="#3bb44a"/>
<circle cx="391.40" cy="1013.74" r="3.7" fill="#3bb44a"/>
<circle cx="431.60" cy="962.20" r="3.7" fill="#3bb44a"/>
<circle cx="150.20" cy="1060.70" r="3.7" fill="#b4692c"/>
<circle cx="190.40" cy="1060.70" r="3.7" fill="#b4692c"/>
<circle cx="230.60" cy="1059.39" r="3.7" fill="#b4692c"/>
<circle cx="270.80" cy="1057.42" r="3.7" fill="#b4692c"/>
<circle cx="311.00" cy="1054.15" r="3.7" fill="#b4692c"/>
<circle cx="351.20" cy="1046.29" r="3.7" fill="#b4692c"/>
<circle cx="391.40" cy="1029.91" r="3.7" fill="#b4692c"/>
<circle cx="431.60" cy="996.71" r="3.7" fill="#b4692c"/>
<circle cx="150.20" cy="1060.70" r="3.7" fill="#2ca9e1"/>
<circle cx="190.40" cy="1060.70" r="3.7" fill="#2ca9e1"/>
<circle cx="230.60" cy="1059.83" r="3.7" fill="#2ca9e1"/>
<circle cx="270.80" cy="1058.52" r="3.7" fill="#2ca9e1"/>
<circle cx="311.00" cy="1056.33" r="3.7" fill="#2ca9e1"/>
<circle cx="351.20" cy="1050.00" r="3.7" fill="#2ca9e1"/>
<circle cx="391.40" cy="1037.77" r="3.7" fill="#2ca9e1"/>
<circle cx="431.60" cy="1018.33" r="3.7" fill="#2ca9e1"/>
<circle cx="150.20" cy="1060.70" r="3.7" fill="#5b2673"/>
<circle cx="190.40" cy="1060.70" r="3.7" fill="#5b2673"/>
<circle cx="230.60" cy="1060.26" r="3.7" fill="#5b2673"/>
<circle cx="270.80" cy="1059.39" r="3.7" fill="#5b2673"/>
<circle cx="311.00" cy="1058.08" r="3.7" fill="#5b2673"/>
<circle cx="351.20" cy="1054.15" r="3.7" fill="#5b2673"/>
<circle cx="391.40" cy="1047.60" r="3.7" fill="#5b2673"/>
<circle cx="431.60" cy="1029.91" r="3.7" fill="#5b2673"/>
<circle cx="150.20" cy="1060.70" r="3.7" fill="#fbb81f"/>
<circle cx="190.40" cy="1060.70" r="3.7" fill="#fbb81f"/>
<circle cx="230.60" cy="1060.70" r="3.7" fill="#fbb81f"/>
<circle cx="270.80" cy="1060.04" r="3.7" fill="#fbb81f"/>
<circle cx="311.00" cy="1059.39" r="3.7" fill="#fbb81f"/>
<circle cx="351.20" cy="1057.64" r="3.7" fill="#fbb81f"/>
<circle cx="391.40" cy="1054.15" r="3.7" fill="#fbb81f"/>
<circle cx="431.60" cy="1044.98" r="3.7" fill="#fbb81f"/>
<circle cx="150.20" cy="1060.70" r="3.7" fill="#c8102e"/>
<circle cx="190.40" cy="1060.70" r="3.7" fill="#c8102e"/>
<circle cx="230.60" cy="1060.70" r="3.7" fill="#c8102e"/>
<circle cx="270.80" cy="1060.70" r="3.7" fill="#c8102e"/>
<circle cx="311.00" cy="1060.04" r="3.7" fill="#c8102e"/>
<circle cx="351.20" cy="1059.39" r="3.7" fill="#c8102e"/>
<circle cx="391.40" cy="1057.42" r="3.7" fill="#c8102e"/>
<circle cx="431.60" cy="1051.31" r="3.7" fill="#c8102e"/>
<circle cx="150.20" cy="1060.70" r="3.7" fill="#1b5691"/>
<circle cx="190.40" cy="1060.70" r="3.7" fill="#1b5691"/>
<circle cx="230.60" cy="1060.70" r="3.7" fill="#1b5691"/>
<circle cx="270.80" cy="1060.70" r="3.7" fill="#1b5691"/>
<circle cx="311.00" cy="1060.70" r="3.7" fill="#1b5691"/>
<circle cx="351.20" cy="1060.04" r="3.7" fill="#1b5691"/>
<circle cx="391.40" cy="1058.95" r="3.7" fill="#1b5691"/>
<circle cx="431.60" cy="1056.33" r="3.7" fill="#1b5691"/>
</svg>
</body></html>
